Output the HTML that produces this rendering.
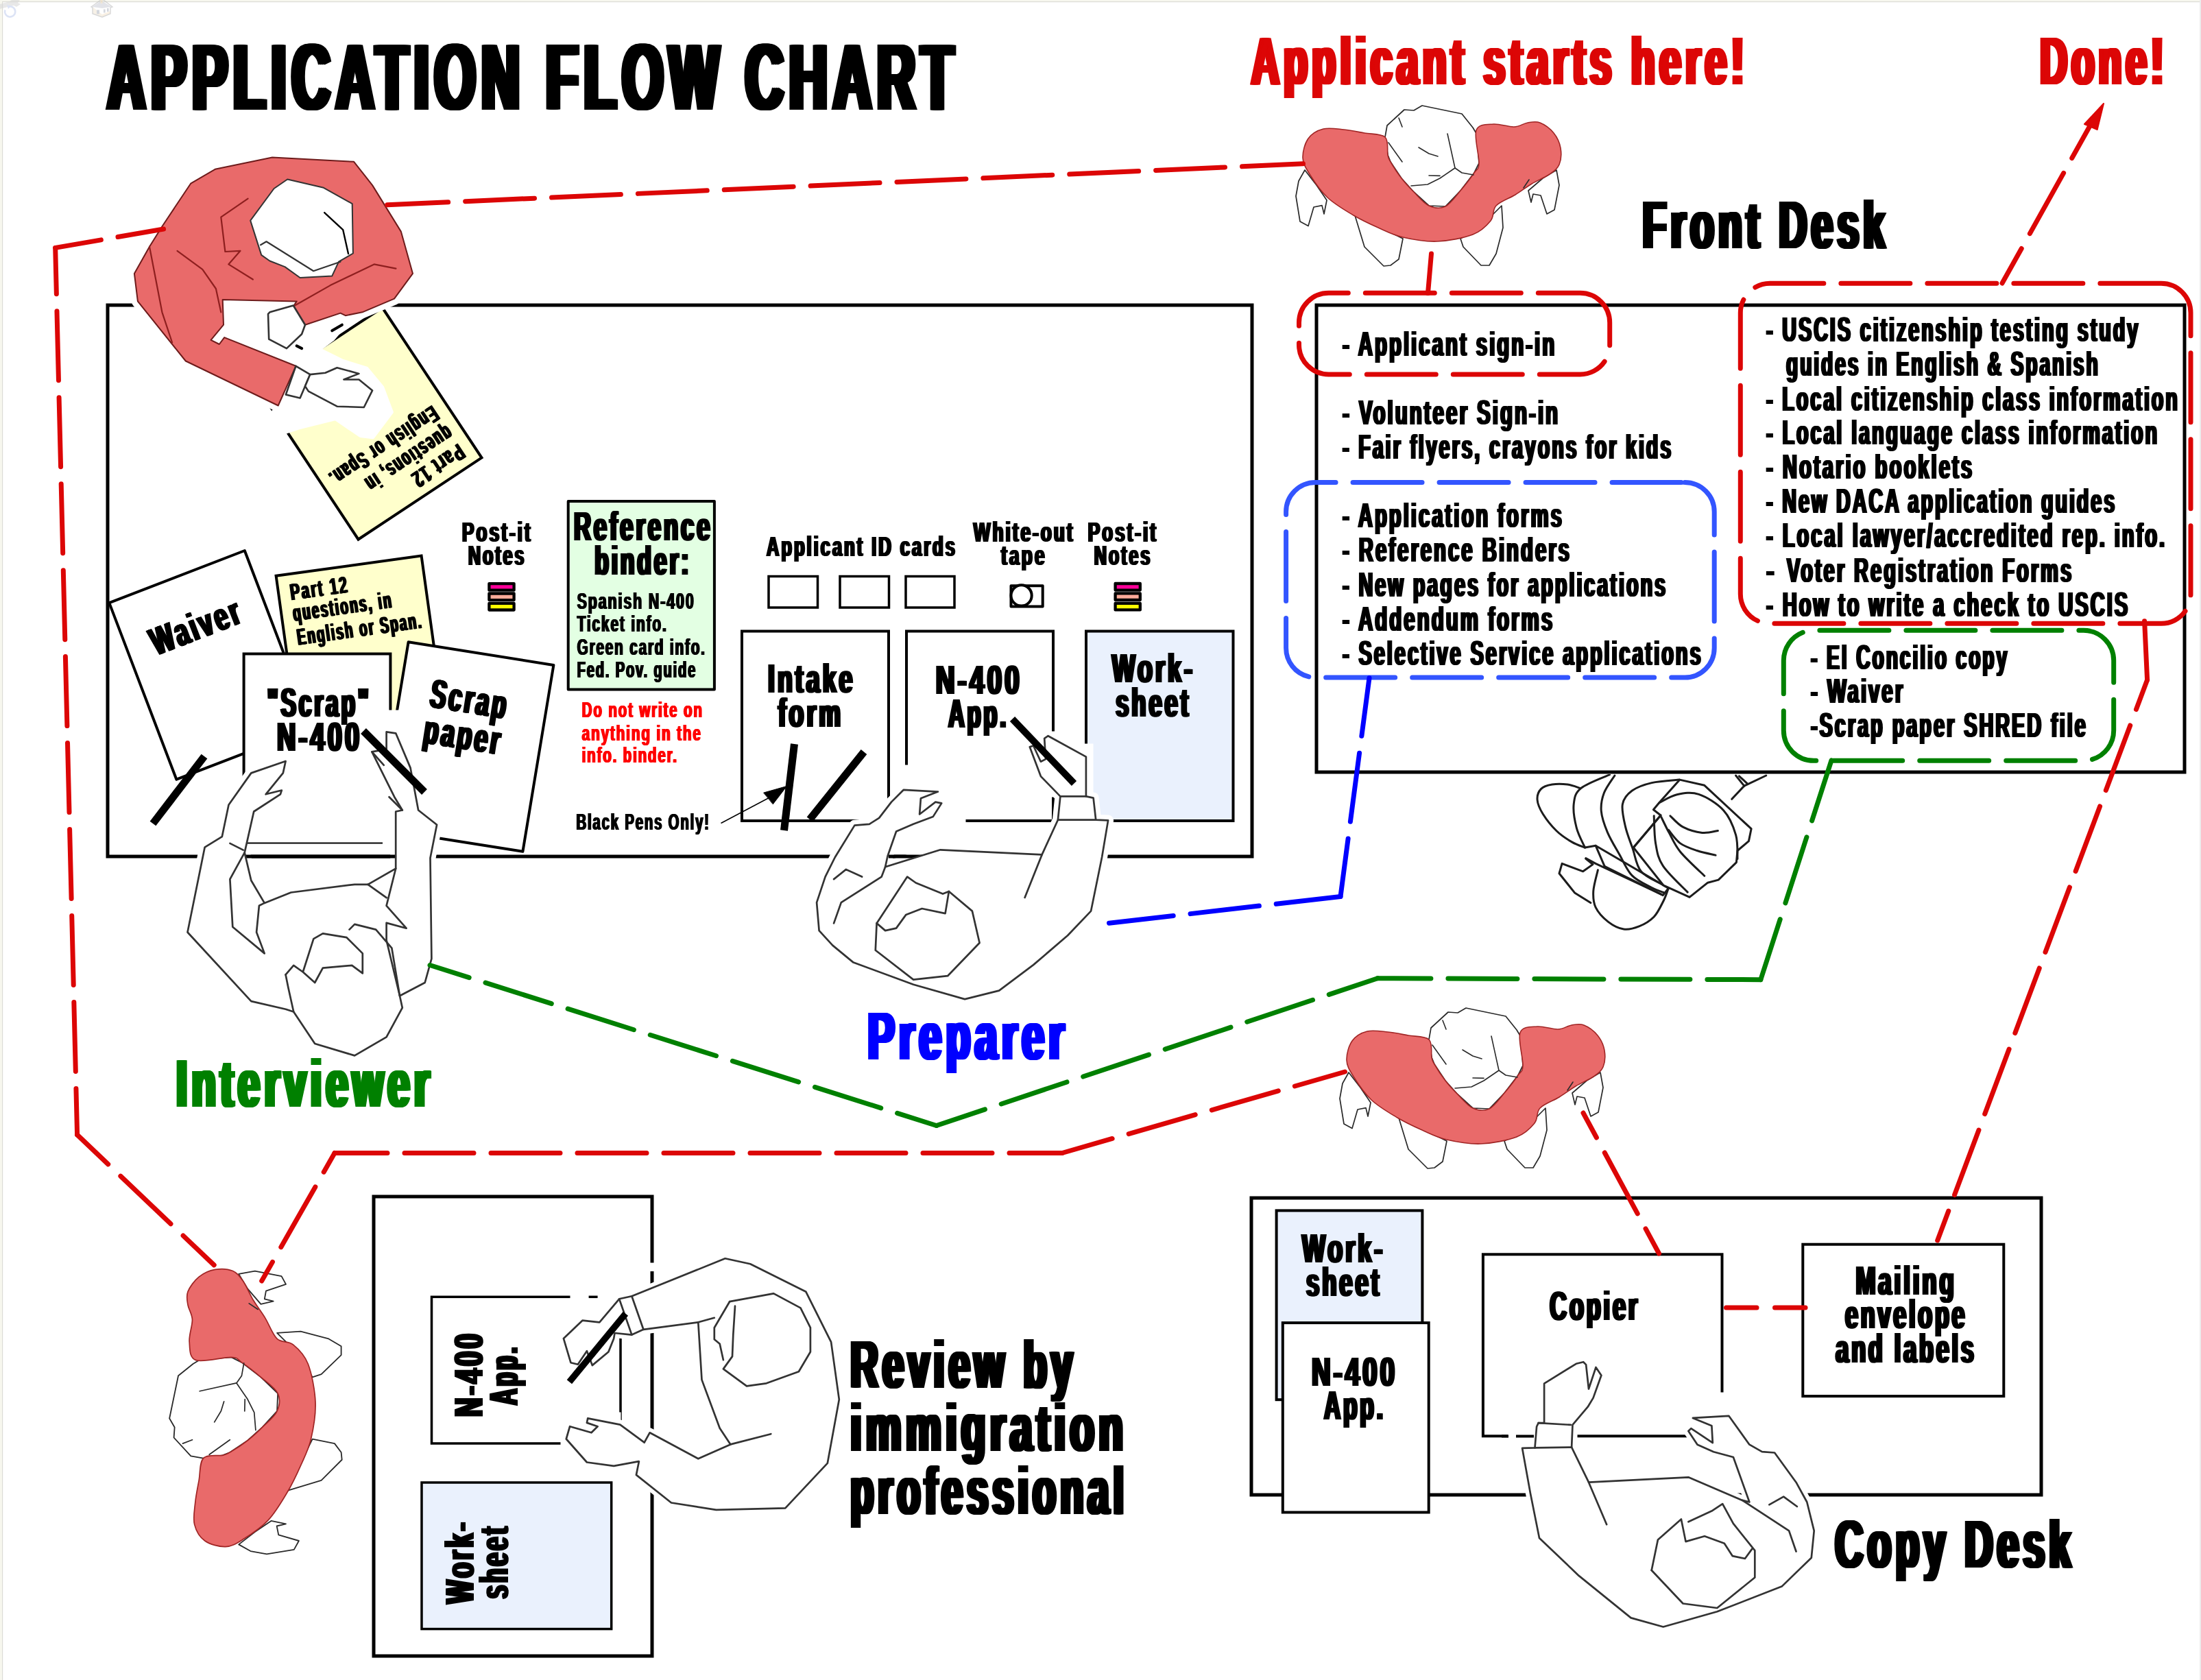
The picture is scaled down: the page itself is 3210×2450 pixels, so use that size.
<!DOCTYPE html>
<html><head><meta charset="utf-8"><title>Application Flow Chart</title>
<style>
html,body{margin:0;padding:0;background:#fff;}
body{width:3210px;height:2450px;overflow:hidden;font-family:"Liberation Sans",sans-serif;}
svg{display:block;will-change:transform;}
svg text{font-family:"Liberation Sans",sans-serif;font-weight:bold;}
</style></head><body>
<svg width="3210" height="2450" viewBox="0 0 3210 2450">
<rect x="0" y="0" width="3210" height="2450" fill="#fff"/>
<rect x="0" y="0" width="3210" height="2.5" fill="#f7f7ee"/>
<rect x="0" y="0" width="3.5" height="2450" fill="#f7f7ee"/>
<rect x="3" y="2" width="3207" height="1.2" fill="#dcdcd6"/>
<rect x="3" y="2" width="1.2" height="2448" fill="#dcdcd6"/>
<rect x="3208" y="0" width="2" height="2450" fill="#ececec"/>
<g opacity="0.6"><path d="M0,6 L14,2 L17,0 L29,0 L26,4 L30,6 L24,10 L20,8 L0,13 Z" fill="#d9d9d9"/><path d="M13.5,9.5 A7.6,7.6 0 1 1 7.5,14.5" fill="none" stroke="#c6d2f0" stroke-width="2.6"/><path d="M10,7 L16,9 L12,13 Z" fill="#c6d2f0"/></g>
<g opacity="0.6"><path d="M135,10 L149,21 L149,25 L135,20 Z" fill="#f3e9d8"/><path d="M149,21 L161,16 L161,20 L149,25 Z" fill="#f6e7d2"/><path d="M133,10 L147,0 L151,0 L164,10 L161,11 L161,20 L149,25 L135,20 L135,11 Z" fill="none" stroke="#bdbdbd" stroke-width="1.4"/><path d="M134,10 L148,1 L163,10 L149,12 Z" fill="#cfd2da"/><rect x="146.5" y="0" width="3" height="5" fill="#ecd9bd"/><rect x="141" y="14.5" width="4" height="6" fill="#b9bdc8"/><rect x="151" y="13.5" width="2.6" height="5" fill="#b9bdc8"/><rect x="156" y="12" width="2.6" height="5" fill="#b9bdc8"/></g>
<rect x="157.0" y="445.0" width="1669.0" height="804.0" fill="#fff" stroke="#000" stroke-width="5.0" />
<rect x="1920.0" y="445.0" width="1266.0" height="681.0" fill="#fff" stroke="#000" stroke-width="5.0" />
<rect x="1825.0" y="1747.0" width="1152.0" height="433.0" fill="#fff" stroke="#000" stroke-width="5.0" />
<rect x="545.0" y="1745.0" width="406.0" height="670.0" fill="#fff" stroke="#000" stroke-width="5.0" />
<text x="151.7" y="160.0" font-size="137.5" letter-spacing="15.3" textLength="1242.5" lengthAdjust="spacingAndGlyphs" fill="#000">APPLICATION FLOW CHART</text><text x="153.3" y="160.0" font-size="137.5" letter-spacing="15.3" textLength="1242.5" lengthAdjust="spacingAndGlyphs" fill="#000">APPLICATION FLOW CHART</text><text x="154.9" y="160.0" font-size="137.5" letter-spacing="15.3" textLength="1242.5" lengthAdjust="spacingAndGlyphs" fill="#000">APPLICATION FLOW CHART</text><text x="156.5" y="160.0" font-size="137.5" letter-spacing="15.3" textLength="1242.5" lengthAdjust="spacingAndGlyphs" fill="#000">APPLICATION FLOW CHART</text><text x="158.0" y="160.0" font-size="137.5" letter-spacing="15.3" textLength="1242.5" lengthAdjust="spacingAndGlyphs" fill="#000">APPLICATION FLOW CHART</text><text x="159.6" y="160.0" font-size="137.5" letter-spacing="15.3" textLength="1242.5" lengthAdjust="spacingAndGlyphs" fill="#000">APPLICATION FLOW CHART</text><text x="161.2" y="160.0" font-size="137.5" letter-spacing="15.3" textLength="1242.5" lengthAdjust="spacingAndGlyphs" fill="#000">APPLICATION FLOW CHART</text>
<text x="1821.4" y="122.5" font-size="98.8" letter-spacing="11.0" textLength="725.1" lengthAdjust="spacingAndGlyphs" fill="#dc0606">Applicant starts here!</text><text x="1822.8" y="122.5" font-size="98.8" letter-spacing="11.0" textLength="725.1" lengthAdjust="spacingAndGlyphs" fill="#dc0606">Applicant starts here!</text><text x="1824.2" y="122.5" font-size="98.8" letter-spacing="11.0" textLength="725.1" lengthAdjust="spacingAndGlyphs" fill="#dc0606">Applicant starts here!</text><text x="1825.5" y="122.5" font-size="98.8" letter-spacing="11.0" textLength="725.1" lengthAdjust="spacingAndGlyphs" fill="#dc0606">Applicant starts here!</text><text x="1826.9" y="122.5" font-size="98.8" letter-spacing="11.0" textLength="725.1" lengthAdjust="spacingAndGlyphs" fill="#dc0606">Applicant starts here!</text><text x="1828.2" y="122.5" font-size="98.8" letter-spacing="11.0" textLength="725.1" lengthAdjust="spacingAndGlyphs" fill="#dc0606">Applicant starts here!</text>
<text x="2971.9" y="122.5" font-size="98.8" letter-spacing="11.0" textLength="186.1" lengthAdjust="spacingAndGlyphs" fill="#dc0606">Done!</text><text x="2973.3" y="122.5" font-size="98.8" letter-spacing="11.0" textLength="186.1" lengthAdjust="spacingAndGlyphs" fill="#dc0606">Done!</text><text x="2974.7" y="122.5" font-size="98.8" letter-spacing="11.0" textLength="186.1" lengthAdjust="spacingAndGlyphs" fill="#dc0606">Done!</text><text x="2976.0" y="122.5" font-size="98.8" letter-spacing="11.0" textLength="186.1" lengthAdjust="spacingAndGlyphs" fill="#dc0606">Done!</text><text x="2977.4" y="122.5" font-size="98.8" letter-spacing="11.0" textLength="186.1" lengthAdjust="spacingAndGlyphs" fill="#dc0606">Done!</text><text x="2978.7" y="122.5" font-size="98.8" letter-spacing="11.0" textLength="186.1" lengthAdjust="spacingAndGlyphs" fill="#dc0606">Done!</text>
<text x="2392.3" y="361.8" font-size="98.8" letter-spacing="11.0" textLength="359.6" lengthAdjust="spacingAndGlyphs" fill="#000">Front Desk</text><text x="2393.7" y="361.8" font-size="98.8" letter-spacing="11.0" textLength="359.6" lengthAdjust="spacingAndGlyphs" fill="#000">Front Desk</text><text x="2395.1" y="361.8" font-size="98.8" letter-spacing="11.0" textLength="359.6" lengthAdjust="spacingAndGlyphs" fill="#000">Front Desk</text><text x="2396.4" y="361.8" font-size="98.8" letter-spacing="11.0" textLength="359.6" lengthAdjust="spacingAndGlyphs" fill="#000">Front Desk</text><text x="2397.8" y="361.8" font-size="98.8" letter-spacing="11.0" textLength="359.6" lengthAdjust="spacingAndGlyphs" fill="#000">Front Desk</text><text x="2399.1" y="361.8" font-size="98.8" letter-spacing="11.0" textLength="359.6" lengthAdjust="spacingAndGlyphs" fill="#000">Front Desk</text>
<text x="253.7" y="1613.9" font-size="98.8" letter-spacing="11.0" textLength="375.8" lengthAdjust="spacingAndGlyphs" fill="#008000">Interviewer</text><text x="255.1" y="1613.9" font-size="98.8" letter-spacing="11.0" textLength="375.8" lengthAdjust="spacingAndGlyphs" fill="#008000">Interviewer</text><text x="256.5" y="1613.9" font-size="98.8" letter-spacing="11.0" textLength="375.8" lengthAdjust="spacingAndGlyphs" fill="#008000">Interviewer</text><text x="257.8" y="1613.9" font-size="98.8" letter-spacing="11.0" textLength="375.8" lengthAdjust="spacingAndGlyphs" fill="#008000">Interviewer</text><text x="259.2" y="1613.9" font-size="98.8" letter-spacing="11.0" textLength="375.8" lengthAdjust="spacingAndGlyphs" fill="#008000">Interviewer</text><text x="260.5" y="1613.9" font-size="98.8" letter-spacing="11.0" textLength="375.8" lengthAdjust="spacingAndGlyphs" fill="#008000">Interviewer</text>
<text x="1262.2" y="1545.2" font-size="98.8" letter-spacing="11.0" textLength="293.2" lengthAdjust="spacingAndGlyphs" fill="#0000ff">Preparer</text><text x="1263.6" y="1545.2" font-size="98.8" letter-spacing="11.0" textLength="293.2" lengthAdjust="spacingAndGlyphs" fill="#0000ff">Preparer</text><text x="1265.0" y="1545.2" font-size="98.8" letter-spacing="11.0" textLength="293.2" lengthAdjust="spacingAndGlyphs" fill="#0000ff">Preparer</text><text x="1266.3" y="1545.2" font-size="98.8" letter-spacing="11.0" textLength="293.2" lengthAdjust="spacingAndGlyphs" fill="#0000ff">Preparer</text><text x="1267.7" y="1545.2" font-size="98.8" letter-spacing="11.0" textLength="293.2" lengthAdjust="spacingAndGlyphs" fill="#0000ff">Preparer</text><text x="1269.0" y="1545.2" font-size="98.8" letter-spacing="11.0" textLength="293.2" lengthAdjust="spacingAndGlyphs" fill="#0000ff">Preparer</text>
<text x="2672.9" y="2285.5" font-size="98.8" letter-spacing="11.0" textLength="350.1" lengthAdjust="spacingAndGlyphs" fill="#000">Copy Desk</text><text x="2674.3" y="2285.5" font-size="98.8" letter-spacing="11.0" textLength="350.1" lengthAdjust="spacingAndGlyphs" fill="#000">Copy Desk</text><text x="2675.7" y="2285.5" font-size="98.8" letter-spacing="11.0" textLength="350.1" lengthAdjust="spacingAndGlyphs" fill="#000">Copy Desk</text><text x="2677.0" y="2285.5" font-size="98.8" letter-spacing="11.0" textLength="350.1" lengthAdjust="spacingAndGlyphs" fill="#000">Copy Desk</text><text x="2678.4" y="2285.5" font-size="98.8" letter-spacing="11.0" textLength="350.1" lengthAdjust="spacingAndGlyphs" fill="#000">Copy Desk</text><text x="2679.7" y="2285.5" font-size="98.8" letter-spacing="11.0" textLength="350.1" lengthAdjust="spacingAndGlyphs" fill="#000">Copy Desk</text>
<text x="1236.9" y="2024.0" font-size="98.8" letter-spacing="11.0" textLength="330.1" lengthAdjust="spacingAndGlyphs" fill="#000">Review by</text><text x="1238.3" y="2024.0" font-size="98.8" letter-spacing="11.0" textLength="330.1" lengthAdjust="spacingAndGlyphs" fill="#000">Review by</text><text x="1239.7" y="2024.0" font-size="98.8" letter-spacing="11.0" textLength="330.1" lengthAdjust="spacingAndGlyphs" fill="#000">Review by</text><text x="1241.0" y="2024.0" font-size="98.8" letter-spacing="11.0" textLength="330.1" lengthAdjust="spacingAndGlyphs" fill="#000">Review by</text><text x="1242.4" y="2024.0" font-size="98.8" letter-spacing="11.0" textLength="330.1" lengthAdjust="spacingAndGlyphs" fill="#000">Review by</text><text x="1243.7" y="2024.0" font-size="98.8" letter-spacing="11.0" textLength="330.1" lengthAdjust="spacingAndGlyphs" fill="#000">Review by</text>
<text x="1236.9" y="2116.0" font-size="98.8" letter-spacing="11.0" textLength="404.1" lengthAdjust="spacingAndGlyphs" fill="#000">immigration</text><text x="1238.3" y="2116.0" font-size="98.8" letter-spacing="11.0" textLength="404.1" lengthAdjust="spacingAndGlyphs" fill="#000">immigration</text><text x="1239.7" y="2116.0" font-size="98.8" letter-spacing="11.0" textLength="404.1" lengthAdjust="spacingAndGlyphs" fill="#000">immigration</text><text x="1241.0" y="2116.0" font-size="98.8" letter-spacing="11.0" textLength="404.1" lengthAdjust="spacingAndGlyphs" fill="#000">immigration</text><text x="1242.4" y="2116.0" font-size="98.8" letter-spacing="11.0" textLength="404.1" lengthAdjust="spacingAndGlyphs" fill="#000">immigration</text><text x="1243.7" y="2116.0" font-size="98.8" letter-spacing="11.0" textLength="404.1" lengthAdjust="spacingAndGlyphs" fill="#000">immigration</text>
<text x="1236.9" y="2207.5" font-size="98.8" letter-spacing="11.0" textLength="404.9" lengthAdjust="spacingAndGlyphs" fill="#000">professional</text><text x="1238.3" y="2207.5" font-size="98.8" letter-spacing="11.0" textLength="404.9" lengthAdjust="spacingAndGlyphs" fill="#000">professional</text><text x="1239.7" y="2207.5" font-size="98.8" letter-spacing="11.0" textLength="404.9" lengthAdjust="spacingAndGlyphs" fill="#000">professional</text><text x="1241.0" y="2207.5" font-size="98.8" letter-spacing="11.0" textLength="404.9" lengthAdjust="spacingAndGlyphs" fill="#000">professional</text><text x="1242.4" y="2207.5" font-size="98.8" letter-spacing="11.0" textLength="404.9" lengthAdjust="spacingAndGlyphs" fill="#000">professional</text><text x="1243.7" y="2207.5" font-size="98.8" letter-spacing="11.0" textLength="404.9" lengthAdjust="spacingAndGlyphs" fill="#000">professional</text>
<g transform="translate(702.5,667.5) rotate(146.5)">
<rect x="0" y="0" width="215.8" height="262.5" fill="#ffffcc" stroke="#000" stroke-width="4"/>
<text x="16.1" y="36.8" font-size="34.0" letter-spacing="3.8" textLength="85.7" lengthAdjust="spacingAndGlyphs" fill="#000">Part 12</text><text x="17.3" y="36.8" font-size="34.0" letter-spacing="3.8" textLength="85.7" lengthAdjust="spacingAndGlyphs" fill="#000">Part 12</text><text x="18.5" y="36.8" font-size="34.0" letter-spacing="3.8" textLength="85.7" lengthAdjust="spacingAndGlyphs" fill="#000">Part 12</text>
<text x="15.6" y="68.6" font-size="34.0" letter-spacing="3.8" textLength="146.7" lengthAdjust="spacingAndGlyphs" fill="#000">questions, in</text><text x="16.8" y="68.6" font-size="34.0" letter-spacing="3.8" textLength="146.7" lengthAdjust="spacingAndGlyphs" fill="#000">questions, in</text><text x="18.0" y="68.6" font-size="34.0" letter-spacing="3.8" textLength="146.7" lengthAdjust="spacingAndGlyphs" fill="#000">questions, in</text>
<text x="17.0" y="104.1" font-size="34.0" letter-spacing="3.8" textLength="184.5" lengthAdjust="spacingAndGlyphs" fill="#000">English or Span.</text><text x="18.2" y="104.1" font-size="34.0" letter-spacing="3.8" textLength="184.5" lengthAdjust="spacingAndGlyphs" fill="#000">English or Span.</text><text x="19.4" y="104.1" font-size="34.0" letter-spacing="3.8" textLength="184.5" lengthAdjust="spacingAndGlyphs" fill="#000">English or Span.</text>
</g>
<polygon points="159.3,879.1 356.8,803.0 454.9,1060.6 257.4,1136.7" fill="#fff" stroke="#000" stroke-width="4.0" stroke-linejoin="round" stroke-linecap="round" />
<g transform="translate(228.1,956.5) rotate(-21)"><text x="-1.8" y="0.0" font-size="57.4" letter-spacing="6.4" textLength="139.6" lengthAdjust="spacingAndGlyphs" fill="#000">Waiver</text><text x="-0.5" y="0.0" font-size="57.4" letter-spacing="6.4" textLength="139.6" lengthAdjust="spacingAndGlyphs" fill="#000">Waiver</text><text x="0.9" y="0.0" font-size="57.4" letter-spacing="6.4" textLength="139.6" lengthAdjust="spacingAndGlyphs" fill="#000">Waiver</text><text x="2.2" y="0.0" font-size="57.4" letter-spacing="6.4" textLength="139.6" lengthAdjust="spacingAndGlyphs" fill="#000">Waiver</text></g>
<g transform="translate(402.6,839.8) rotate(-7.9)">
<rect x="0" y="0" width="214" height="275" fill="#ffffcc" stroke="#000" stroke-width="4"/>
<text x="16.1" y="38.3" font-size="34.0" letter-spacing="3.8" textLength="85.7" lengthAdjust="spacingAndGlyphs" fill="#000">Part 12</text><text x="17.3" y="38.3" font-size="34.0" letter-spacing="3.8" textLength="85.7" lengthAdjust="spacingAndGlyphs" fill="#000">Part 12</text><text x="18.5" y="38.3" font-size="34.0" letter-spacing="3.8" textLength="85.7" lengthAdjust="spacingAndGlyphs" fill="#000">Part 12</text>
<text x="15.6" y="69.1" font-size="34.0" letter-spacing="3.8" textLength="146.7" lengthAdjust="spacingAndGlyphs" fill="#000">questions, in</text><text x="16.8" y="69.1" font-size="34.0" letter-spacing="3.8" textLength="146.7" lengthAdjust="spacingAndGlyphs" fill="#000">questions, in</text><text x="18.0" y="69.1" font-size="34.0" letter-spacing="3.8" textLength="146.7" lengthAdjust="spacingAndGlyphs" fill="#000">questions, in</text>
<text x="17.0" y="104.6" font-size="34.0" letter-spacing="3.8" textLength="184.5" lengthAdjust="spacingAndGlyphs" fill="#000">English or Span.</text><text x="18.2" y="104.6" font-size="34.0" letter-spacing="3.8" textLength="184.5" lengthAdjust="spacingAndGlyphs" fill="#000">English or Span.</text><text x="19.4" y="104.6" font-size="34.0" letter-spacing="3.8" textLength="184.5" lengthAdjust="spacingAndGlyphs" fill="#000">English or Span.</text>
</g>
<polygon points="595.6,936.3 807.4,969.9 762.4,1241.8 550.6,1208.2" fill="#fff" stroke="#000" stroke-width="4.0" stroke-linejoin="round" stroke-linecap="round" />
<g transform="translate(625.1,1030.9) rotate(9)"><text x="-1.8" y="0.0" font-size="59.4" letter-spacing="6.6" textLength="115.4" lengthAdjust="spacingAndGlyphs" fill="#000">Scrap</text><text x="-0.5" y="0.0" font-size="59.4" letter-spacing="6.6" textLength="115.4" lengthAdjust="spacingAndGlyphs" fill="#000">Scrap</text><text x="0.9" y="0.0" font-size="59.4" letter-spacing="6.6" textLength="115.4" lengthAdjust="spacingAndGlyphs" fill="#000">Scrap</text><text x="2.2" y="0.0" font-size="59.4" letter-spacing="6.6" textLength="115.4" lengthAdjust="spacingAndGlyphs" fill="#000">Scrap</text><text x="-3.0" y="53.0" font-size="59.4" letter-spacing="6.6" textLength="115.5" lengthAdjust="spacingAndGlyphs" fill="#000">paper</text><text x="-1.7" y="53.0" font-size="59.4" letter-spacing="6.6" textLength="115.5" lengthAdjust="spacingAndGlyphs" fill="#000">paper</text><text x="-0.3" y="53.0" font-size="59.4" letter-spacing="6.6" textLength="115.5" lengthAdjust="spacingAndGlyphs" fill="#000">paper</text><text x="1.0" y="53.0" font-size="59.4" letter-spacing="6.6" textLength="115.5" lengthAdjust="spacingAndGlyphs" fill="#000">paper</text></g>
<rect x="355.6" y="953.5" width="213.8" height="275.2" fill="#fff" stroke="#000" stroke-width="4.0" />
<text x="387.7" y="1045.0" font-size="59.4" letter-spacing="6.6" textLength="151.9" lengthAdjust="spacingAndGlyphs" fill="#000">"Scrap"</text><text x="389.0" y="1045.0" font-size="59.4" letter-spacing="6.6" textLength="151.9" lengthAdjust="spacingAndGlyphs" fill="#000">"Scrap"</text><text x="390.4" y="1045.0" font-size="59.4" letter-spacing="6.6" textLength="151.9" lengthAdjust="spacingAndGlyphs" fill="#000">"Scrap"</text><text x="391.7" y="1045.0" font-size="59.4" letter-spacing="6.6" textLength="151.9" lengthAdjust="spacingAndGlyphs" fill="#000">"Scrap"</text>
<text x="402.0" y="1095.0" font-size="59.4" letter-spacing="6.6" textLength="124.4" lengthAdjust="spacingAndGlyphs" fill="#000">N-400</text><text x="403.3" y="1095.0" font-size="59.4" letter-spacing="6.6" textLength="124.4" lengthAdjust="spacingAndGlyphs" fill="#000">N-400</text><text x="404.7" y="1095.0" font-size="59.4" letter-spacing="6.6" textLength="124.4" lengthAdjust="spacingAndGlyphs" fill="#000">N-400</text><text x="406.0" y="1095.0" font-size="59.4" letter-spacing="6.6" textLength="124.4" lengthAdjust="spacingAndGlyphs" fill="#000">N-400</text>
<text x="672.4" y="790.0" font-size="41.3" letter-spacing="4.6" textLength="102.8" lengthAdjust="spacingAndGlyphs" fill="#000">Post-it</text><text x="673.8" y="790.0" font-size="41.3" letter-spacing="4.6" textLength="102.8" lengthAdjust="spacingAndGlyphs" fill="#000">Post-it</text><text x="675.3" y="790.0" font-size="41.3" letter-spacing="4.6" textLength="102.8" lengthAdjust="spacingAndGlyphs" fill="#000">Post-it</text>
<text x="681.4" y="823.5" font-size="41.3" letter-spacing="4.6" textLength="84.4" lengthAdjust="spacingAndGlyphs" fill="#000">Notes</text><text x="682.8" y="823.5" font-size="41.3" letter-spacing="4.6" textLength="84.4" lengthAdjust="spacingAndGlyphs" fill="#000">Notes</text><text x="684.3" y="823.5" font-size="41.3" letter-spacing="4.6" textLength="84.4" lengthAdjust="spacingAndGlyphs" fill="#000">Notes</text>
<rect x="713.4" y="851.1" width="36.2" height="9.6" fill="#ff0099" stroke="#000" stroke-width="4.3" stroke-linejoin="round"/><rect x="713.4" y="865.5" width="36.2" height="9.6" fill="#ffab9a" stroke="#000" stroke-width="4.3" stroke-linejoin="round"/><rect x="713.4" y="879.9" width="36.2" height="9.6" fill="#ffff00" stroke="#000" stroke-width="4.3" stroke-linejoin="round"/>
<rect x="828.7" y="731.1" width="213.2" height="274.5" fill="#e3ffe3" stroke="#000" stroke-width="4.0" stroke-linejoin="round"/>
<text x="834.9" y="788.3" font-size="59.0" letter-spacing="6.5" textLength="202.4" lengthAdjust="spacingAndGlyphs" fill="#000">Reference</text><text x="836.2" y="788.3" font-size="59.0" letter-spacing="6.5" textLength="202.4" lengthAdjust="spacingAndGlyphs" fill="#000">Reference</text><text x="837.6" y="788.3" font-size="59.0" letter-spacing="6.5" textLength="202.4" lengthAdjust="spacingAndGlyphs" fill="#000">Reference</text><text x="838.9" y="788.3" font-size="59.0" letter-spacing="6.5" textLength="202.4" lengthAdjust="spacingAndGlyphs" fill="#000">Reference</text>
<text x="865.2" y="837.7" font-size="59.0" letter-spacing="6.5" textLength="141.2" lengthAdjust="spacingAndGlyphs" fill="#000">binder:</text><text x="866.5" y="837.7" font-size="59.0" letter-spacing="6.5" textLength="141.2" lengthAdjust="spacingAndGlyphs" fill="#000">binder:</text><text x="867.9" y="837.7" font-size="59.0" letter-spacing="6.5" textLength="141.2" lengthAdjust="spacingAndGlyphs" fill="#000">binder:</text><text x="869.2" y="837.7" font-size="59.0" letter-spacing="6.5" textLength="141.2" lengthAdjust="spacingAndGlyphs" fill="#000">binder:</text>
<text x="840.7" y="887.8" font-size="34.0" letter-spacing="3.0" textLength="172.0" lengthAdjust="spacingAndGlyphs" fill="#000">Spanish N-400</text><text x="841.7" y="887.8" font-size="34.0" letter-spacing="3.0" textLength="172.0" lengthAdjust="spacingAndGlyphs" fill="#000">Spanish N-400</text><text x="842.6" y="887.8" font-size="34.0" letter-spacing="3.0" textLength="172.0" lengthAdjust="spacingAndGlyphs" fill="#000">Spanish N-400</text>
<text x="840.7" y="921.2" font-size="34.0" letter-spacing="3.0" textLength="132.0" lengthAdjust="spacingAndGlyphs" fill="#000">Ticket info.</text><text x="841.7" y="921.2" font-size="34.0" letter-spacing="3.0" textLength="132.0" lengthAdjust="spacingAndGlyphs" fill="#000">Ticket info.</text><text x="842.6" y="921.2" font-size="34.0" letter-spacing="3.0" textLength="132.0" lengthAdjust="spacingAndGlyphs" fill="#000">Ticket info.</text>
<text x="840.7" y="955.1" font-size="34.0" letter-spacing="3.0" textLength="188.1" lengthAdjust="spacingAndGlyphs" fill="#000">Green card info.</text><text x="841.7" y="955.1" font-size="34.0" letter-spacing="3.0" textLength="188.1" lengthAdjust="spacingAndGlyphs" fill="#000">Green card info.</text><text x="842.6" y="955.1" font-size="34.0" letter-spacing="3.0" textLength="188.1" lengthAdjust="spacingAndGlyphs" fill="#000">Green card info.</text>
<text x="840.7" y="987.9" font-size="34.0" letter-spacing="3.0" textLength="174.5" lengthAdjust="spacingAndGlyphs" fill="#000">Fed. Pov. guide</text><text x="841.7" y="987.9" font-size="34.0" letter-spacing="3.0" textLength="174.5" lengthAdjust="spacingAndGlyphs" fill="#000">Fed. Pov. guide</text><text x="842.6" y="987.9" font-size="34.0" letter-spacing="3.0" textLength="174.5" lengthAdjust="spacingAndGlyphs" fill="#000">Fed. Pov. guide</text>
<text x="847.8" y="1046.2" font-size="31.7" letter-spacing="2.8" textLength="177.1" lengthAdjust="spacingAndGlyphs" fill="#ff0000">Do not write on</text><text x="848.7" y="1046.2" font-size="31.7" letter-spacing="2.8" textLength="177.1" lengthAdjust="spacingAndGlyphs" fill="#ff0000">Do not write on</text><text x="849.6" y="1046.2" font-size="31.7" letter-spacing="2.8" textLength="177.1" lengthAdjust="spacingAndGlyphs" fill="#ff0000">Do not write on</text>
<text x="847.8" y="1079.5" font-size="31.7" letter-spacing="2.8" textLength="175.0" lengthAdjust="spacingAndGlyphs" fill="#ff0000">anything in the</text><text x="848.7" y="1079.5" font-size="31.7" letter-spacing="2.8" textLength="175.0" lengthAdjust="spacingAndGlyphs" fill="#ff0000">anything in the</text><text x="849.6" y="1079.5" font-size="31.7" letter-spacing="2.8" textLength="175.0" lengthAdjust="spacingAndGlyphs" fill="#ff0000">anything in the</text>
<text x="847.8" y="1112.3" font-size="31.7" letter-spacing="2.8" textLength="140.1" lengthAdjust="spacingAndGlyphs" fill="#ff0000">info. binder.</text><text x="848.7" y="1112.3" font-size="31.7" letter-spacing="2.8" textLength="140.1" lengthAdjust="spacingAndGlyphs" fill="#ff0000">info. binder.</text><text x="849.6" y="1112.3" font-size="31.7" letter-spacing="2.8" textLength="140.1" lengthAdjust="spacingAndGlyphs" fill="#ff0000">info. binder.</text>
<text x="839.6" y="1210.3" font-size="32.7" letter-spacing="2.9" textLength="195.3" lengthAdjust="spacingAndGlyphs" fill="#000">Black Pens Only!</text><text x="840.5" y="1210.3" font-size="32.7" letter-spacing="2.9" textLength="195.3" lengthAdjust="spacingAndGlyphs" fill="#000">Black Pens Only!</text><text x="841.4" y="1210.3" font-size="32.7" letter-spacing="2.9" textLength="195.3" lengthAdjust="spacingAndGlyphs" fill="#000">Black Pens Only!</text>
<text x="1116.4" y="811.3" font-size="41.3" letter-spacing="4.6" textLength="278.0" lengthAdjust="spacingAndGlyphs" fill="#000">Applicant ID cards</text><text x="1117.8" y="811.3" font-size="41.3" letter-spacing="4.6" textLength="278.0" lengthAdjust="spacingAndGlyphs" fill="#000">Applicant ID cards</text><text x="1119.3" y="811.3" font-size="41.3" letter-spacing="4.6" textLength="278.0" lengthAdjust="spacingAndGlyphs" fill="#000">Applicant ID cards</text>
<rect x="1121.0" y="840.5" width="71.5" height="45.5" fill="#fff" stroke="#000" stroke-width="3.5" />
<rect x="1225.0" y="840.5" width="71.5" height="45.5" fill="#fff" stroke="#000" stroke-width="3.5" />
<rect x="1321.0" y="840.5" width="71.0" height="45.5" fill="#fff" stroke="#000" stroke-width="3.5" />
<text x="1418.2" y="790.3" font-size="41.3" letter-spacing="4.6" textLength="147.9" lengthAdjust="spacingAndGlyphs" fill="#000">White-out</text><text x="1419.6" y="790.3" font-size="41.3" letter-spacing="4.6" textLength="147.9" lengthAdjust="spacingAndGlyphs" fill="#000">White-out</text><text x="1421.1" y="790.3" font-size="41.3" letter-spacing="4.6" textLength="147.9" lengthAdjust="spacingAndGlyphs" fill="#000">White-out</text>
<text x="1458.6" y="823.6" font-size="41.3" letter-spacing="4.6" textLength="66.6" lengthAdjust="spacingAndGlyphs" fill="#000">tape</text><text x="1460.0" y="823.6" font-size="41.3" letter-spacing="4.6" textLength="66.6" lengthAdjust="spacingAndGlyphs" fill="#000">tape</text><text x="1461.5" y="823.6" font-size="41.3" letter-spacing="4.6" textLength="66.6" lengthAdjust="spacingAndGlyphs" fill="#000">tape</text>
<rect x="1474.5" y="854.2" width="46.2" height="30.3" fill="#fff" stroke="#000" stroke-width="4.0" stroke-linejoin="round"/>
<circle cx="1489.6" cy="868.4" r="15.1" fill="#fff" stroke="#000" stroke-width="4"/>
<text x="1585.3" y="790.3" font-size="41.3" letter-spacing="4.6" textLength="102.1" lengthAdjust="spacingAndGlyphs" fill="#000">Post-it</text><text x="1586.7" y="790.3" font-size="41.3" letter-spacing="4.6" textLength="102.1" lengthAdjust="spacingAndGlyphs" fill="#000">Post-it</text><text x="1588.2" y="790.3" font-size="41.3" letter-spacing="4.6" textLength="102.1" lengthAdjust="spacingAndGlyphs" fill="#000">Post-it</text>
<text x="1594.3" y="823.6" font-size="41.3" letter-spacing="4.6" textLength="84.4" lengthAdjust="spacingAndGlyphs" fill="#000">Notes</text><text x="1595.7" y="823.6" font-size="41.3" letter-spacing="4.6" textLength="84.4" lengthAdjust="spacingAndGlyphs" fill="#000">Notes</text><text x="1597.2" y="823.6" font-size="41.3" letter-spacing="4.6" textLength="84.4" lengthAdjust="spacingAndGlyphs" fill="#000">Notes</text>
<rect x="1626.6" y="851.0" width="36.2" height="9.6" fill="#ff0099" stroke="#000" stroke-width="4.3" stroke-linejoin="round"/><rect x="1626.6" y="865.4" width="36.2" height="9.6" fill="#ffab9a" stroke="#000" stroke-width="4.3" stroke-linejoin="round"/><rect x="1626.6" y="879.8" width="36.2" height="9.6" fill="#ffff00" stroke="#000" stroke-width="4.3" stroke-linejoin="round"/>
<rect x="1082.0" y="920.5" width="214.0" height="276.5" fill="#fff" stroke="#000" stroke-width="4.0" />
<text x="1118.0" y="1010.0" font-size="59.4" letter-spacing="6.6" textLength="127.5" lengthAdjust="spacingAndGlyphs" fill="#000">Intake</text><text x="1119.3" y="1010.0" font-size="59.4" letter-spacing="6.6" textLength="127.5" lengthAdjust="spacingAndGlyphs" fill="#000">Intake</text><text x="1120.7" y="1010.0" font-size="59.4" letter-spacing="6.6" textLength="127.5" lengthAdjust="spacingAndGlyphs" fill="#000">Intake</text><text x="1122.0" y="1010.0" font-size="59.4" letter-spacing="6.6" textLength="127.5" lengthAdjust="spacingAndGlyphs" fill="#000">Intake</text>
<text x="1132.7" y="1060.0" font-size="59.4" letter-spacing="6.6" textLength="95.5" lengthAdjust="spacingAndGlyphs" fill="#000">form</text><text x="1134.0" y="1060.0" font-size="59.4" letter-spacing="6.6" textLength="95.5" lengthAdjust="spacingAndGlyphs" fill="#000">form</text><text x="1135.4" y="1060.0" font-size="59.4" letter-spacing="6.6" textLength="95.5" lengthAdjust="spacingAndGlyphs" fill="#000">form</text><text x="1136.7" y="1060.0" font-size="59.4" letter-spacing="6.6" textLength="95.5" lengthAdjust="spacingAndGlyphs" fill="#000">form</text>
<rect x="1322.0" y="920.5" width="214.0" height="276.5" fill="#fff" stroke="#000" stroke-width="4.0" />
<text x="1362.8" y="1011.5" font-size="59.4" letter-spacing="6.6" textLength="126.2" lengthAdjust="spacingAndGlyphs" fill="#000">N-400</text><text x="1364.1" y="1011.5" font-size="59.4" letter-spacing="6.6" textLength="126.2" lengthAdjust="spacingAndGlyphs" fill="#000">N-400</text><text x="1365.5" y="1011.5" font-size="59.4" letter-spacing="6.6" textLength="126.2" lengthAdjust="spacingAndGlyphs" fill="#000">N-400</text><text x="1366.8" y="1011.5" font-size="59.4" letter-spacing="6.6" textLength="126.2" lengthAdjust="spacingAndGlyphs" fill="#000">N-400</text>
<text x="1381.0" y="1061.3" font-size="59.4" letter-spacing="6.6" textLength="88.0" lengthAdjust="spacingAndGlyphs" fill="#000">App.</text><text x="1382.3" y="1061.3" font-size="59.4" letter-spacing="6.6" textLength="88.0" lengthAdjust="spacingAndGlyphs" fill="#000">App.</text><text x="1383.7" y="1061.3" font-size="59.4" letter-spacing="6.6" textLength="88.0" lengthAdjust="spacingAndGlyphs" fill="#000">App.</text><text x="1385.0" y="1061.3" font-size="59.4" letter-spacing="6.6" textLength="88.0" lengthAdjust="spacingAndGlyphs" fill="#000">App.</text>
<rect x="1584.0" y="920.5" width="214.5" height="276.5" fill="#eaf1fd" stroke="#000" stroke-width="4.0" />
<text x="1619.8" y="994.6" font-size="59.4" letter-spacing="6.6" textLength="121.1" lengthAdjust="spacingAndGlyphs" fill="#000">Work-</text><text x="1621.1" y="994.6" font-size="59.4" letter-spacing="6.6" textLength="121.1" lengthAdjust="spacingAndGlyphs" fill="#000">Work-</text><text x="1622.5" y="994.6" font-size="59.4" letter-spacing="6.6" textLength="121.1" lengthAdjust="spacingAndGlyphs" fill="#000">Work-</text><text x="1623.8" y="994.6" font-size="59.4" letter-spacing="6.6" textLength="121.1" lengthAdjust="spacingAndGlyphs" fill="#000">Work-</text>
<text x="1625.2" y="1044.6" font-size="59.4" letter-spacing="6.6" textLength="109.9" lengthAdjust="spacingAndGlyphs" fill="#000">sheet</text><text x="1626.5" y="1044.6" font-size="59.4" letter-spacing="6.6" textLength="109.9" lengthAdjust="spacingAndGlyphs" fill="#000">sheet</text><text x="1627.9" y="1044.6" font-size="59.4" letter-spacing="6.6" textLength="109.9" lengthAdjust="spacingAndGlyphs" fill="#000">sheet</text><text x="1629.2" y="1044.6" font-size="59.4" letter-spacing="6.6" textLength="109.9" lengthAdjust="spacingAndGlyphs" fill="#000">sheet</text>
<line x1="1051.5" y1="1200.5" x2="1128.0" y2="1160.0" stroke="#000" stroke-width="1.5" stroke-linecap="butt"/>
<polygon points="1114.0,1156.0 1147.5,1146.5 1127.5,1172.5" fill="#000" stroke="#000" stroke-width="1.0" stroke-linejoin="round" stroke-linecap="round" />
<line x1="1158.5" y1="1085.0" x2="1143.5" y2="1211.0" stroke="#000" stroke-width="11.0" stroke-linecap="butt"/>
<line x1="1260.0" y1="1096.5" x2="1181.0" y2="1195.0" stroke="#000" stroke-width="11.0" stroke-linecap="butt"/>
<line x1="298.0" y1="1103.0" x2="223.0" y2="1201.0" stroke="#000" stroke-width="11.0" stroke-linecap="butt"/>
<text x="1956.5" y="518.5" font-size="49.9" letter-spacing="5.0" textLength="312.1" lengthAdjust="spacingAndGlyphs" fill="#000">- Applicant sign-in</text><text x="1958.0" y="518.5" font-size="49.9" letter-spacing="5.0" textLength="312.1" lengthAdjust="spacingAndGlyphs" fill="#000">- Applicant sign-in</text><text x="1959.5" y="518.5" font-size="49.9" letter-spacing="5.0" textLength="312.1" lengthAdjust="spacingAndGlyphs" fill="#000">- Applicant sign-in</text>
<text x="1956.5" y="618.5" font-size="49.9" letter-spacing="5.0" textLength="317.1" lengthAdjust="spacingAndGlyphs" fill="#000">- Volunteer Sign-in</text><text x="1958.0" y="618.5" font-size="49.9" letter-spacing="5.0" textLength="317.1" lengthAdjust="spacingAndGlyphs" fill="#000">- Volunteer Sign-in</text><text x="1959.5" y="618.5" font-size="49.9" letter-spacing="5.0" textLength="317.1" lengthAdjust="spacingAndGlyphs" fill="#000">- Volunteer Sign-in</text>
<text x="1956.5" y="668.6" font-size="49.9" letter-spacing="5.0" textLength="482.1" lengthAdjust="spacingAndGlyphs" fill="#000">- Fair flyers, crayons for kids</text><text x="1958.0" y="668.6" font-size="49.9" letter-spacing="5.0" textLength="482.1" lengthAdjust="spacingAndGlyphs" fill="#000">- Fair flyers, crayons for kids</text><text x="1959.5" y="668.6" font-size="49.9" letter-spacing="5.0" textLength="482.1" lengthAdjust="spacingAndGlyphs" fill="#000">- Fair flyers, crayons for kids</text>
<text x="1956.5" y="769.4" font-size="49.9" letter-spacing="5.0" textLength="322.8" lengthAdjust="spacingAndGlyphs" fill="#000">- Application forms</text><text x="1958.0" y="769.4" font-size="49.9" letter-spacing="5.0" textLength="322.8" lengthAdjust="spacingAndGlyphs" fill="#000">- Application forms</text><text x="1959.5" y="769.4" font-size="49.9" letter-spacing="5.0" textLength="322.8" lengthAdjust="spacingAndGlyphs" fill="#000">- Application forms</text>
<text x="1956.5" y="819.4" font-size="49.9" letter-spacing="5.0" textLength="333.9" lengthAdjust="spacingAndGlyphs" fill="#000">- Reference Binders</text><text x="1958.0" y="819.4" font-size="49.9" letter-spacing="5.0" textLength="333.9" lengthAdjust="spacingAndGlyphs" fill="#000">- Reference Binders</text><text x="1959.5" y="819.4" font-size="49.9" letter-spacing="5.0" textLength="333.9" lengthAdjust="spacingAndGlyphs" fill="#000">- Reference Binders</text>
<text x="1956.5" y="869.5" font-size="49.9" letter-spacing="5.0" textLength="474.1" lengthAdjust="spacingAndGlyphs" fill="#000">- New pages for applications</text><text x="1958.0" y="869.5" font-size="49.9" letter-spacing="5.0" textLength="474.1" lengthAdjust="spacingAndGlyphs" fill="#000">- New pages for applications</text><text x="1959.5" y="869.5" font-size="49.9" letter-spacing="5.0" textLength="474.1" lengthAdjust="spacingAndGlyphs" fill="#000">- New pages for applications</text>
<text x="1956.5" y="920.0" font-size="49.9" letter-spacing="5.0" textLength="309.1" lengthAdjust="spacingAndGlyphs" fill="#000">- Addendum forms</text><text x="1958.0" y="920.0" font-size="49.9" letter-spacing="5.0" textLength="309.1" lengthAdjust="spacingAndGlyphs" fill="#000">- Addendum forms</text><text x="1959.5" y="920.0" font-size="49.9" letter-spacing="5.0" textLength="309.1" lengthAdjust="spacingAndGlyphs" fill="#000">- Addendum forms</text>
<text x="1956.5" y="969.6" font-size="49.9" letter-spacing="5.0" textLength="525.5" lengthAdjust="spacingAndGlyphs" fill="#000">- Selective Service applications</text><text x="1958.0" y="969.6" font-size="49.9" letter-spacing="5.0" textLength="525.5" lengthAdjust="spacingAndGlyphs" fill="#000">- Selective Service applications</text><text x="1959.5" y="969.6" font-size="49.9" letter-spacing="5.0" textLength="525.5" lengthAdjust="spacingAndGlyphs" fill="#000">- Selective Service applications</text>
<text x="2574.5" y="498.0" font-size="49.9" letter-spacing="5.0" textLength="545.1" lengthAdjust="spacingAndGlyphs" fill="#000">- USCIS citizenship testing study</text><text x="2576.0" y="498.0" font-size="49.9" letter-spacing="5.0" textLength="545.1" lengthAdjust="spacingAndGlyphs" fill="#000">- USCIS citizenship testing study</text><text x="2577.5" y="498.0" font-size="49.9" letter-spacing="5.0" textLength="545.1" lengthAdjust="spacingAndGlyphs" fill="#000">- USCIS citizenship testing study</text>
<text x="2603.5" y="548.0" font-size="49.9" letter-spacing="5.0" textLength="457.6" lengthAdjust="spacingAndGlyphs" fill="#000">guides in English &amp; Spanish</text><text x="2605.0" y="548.0" font-size="49.9" letter-spacing="5.0" textLength="457.6" lengthAdjust="spacingAndGlyphs" fill="#000">guides in English &amp; Spanish</text><text x="2606.5" y="548.0" font-size="49.9" letter-spacing="5.0" textLength="457.6" lengthAdjust="spacingAndGlyphs" fill="#000">guides in English &amp; Spanish</text>
<text x="2574.5" y="598.8" font-size="49.9" letter-spacing="5.0" textLength="602.8" lengthAdjust="spacingAndGlyphs" fill="#000">- Local citizenship class information</text><text x="2576.0" y="598.8" font-size="49.9" letter-spacing="5.0" textLength="602.8" lengthAdjust="spacingAndGlyphs" fill="#000">- Local citizenship class information</text><text x="2577.5" y="598.8" font-size="49.9" letter-spacing="5.0" textLength="602.8" lengthAdjust="spacingAndGlyphs" fill="#000">- Local citizenship class information</text>
<text x="2574.5" y="648.0" font-size="49.9" letter-spacing="5.0" textLength="573.1" lengthAdjust="spacingAndGlyphs" fill="#000">- Local language class information</text><text x="2576.0" y="648.0" font-size="49.9" letter-spacing="5.0" textLength="573.1" lengthAdjust="spacingAndGlyphs" fill="#000">- Local language class information</text><text x="2577.5" y="648.0" font-size="49.9" letter-spacing="5.0" textLength="573.1" lengthAdjust="spacingAndGlyphs" fill="#000">- Local language class information</text>
<text x="2574.5" y="698.3" font-size="49.9" letter-spacing="5.0" textLength="303.1" lengthAdjust="spacingAndGlyphs" fill="#000">- Notario booklets</text><text x="2576.0" y="698.3" font-size="49.9" letter-spacing="5.0" textLength="303.1" lengthAdjust="spacingAndGlyphs" fill="#000">- Notario booklets</text><text x="2577.5" y="698.3" font-size="49.9" letter-spacing="5.0" textLength="303.1" lengthAdjust="spacingAndGlyphs" fill="#000">- Notario booklets</text>
<text x="2574.5" y="748.3" font-size="49.9" letter-spacing="5.0" textLength="511.1" lengthAdjust="spacingAndGlyphs" fill="#000">- New DACA application guides</text><text x="2576.0" y="748.3" font-size="49.9" letter-spacing="5.0" textLength="511.1" lengthAdjust="spacingAndGlyphs" fill="#000">- New DACA application guides</text><text x="2577.5" y="748.3" font-size="49.9" letter-spacing="5.0" textLength="511.1" lengthAdjust="spacingAndGlyphs" fill="#000">- New DACA application guides</text>
<text x="2574.5" y="798.4" font-size="49.9" letter-spacing="5.0" textLength="584.1" lengthAdjust="spacingAndGlyphs" fill="#000">- Local lawyer/accredited rep. info.</text><text x="2576.0" y="798.4" font-size="49.9" letter-spacing="5.0" textLength="584.1" lengthAdjust="spacingAndGlyphs" fill="#000">- Local lawyer/accredited rep. info.</text><text x="2577.5" y="798.4" font-size="49.9" letter-spacing="5.0" textLength="584.1" lengthAdjust="spacingAndGlyphs" fill="#000">- Local lawyer/accredited rep. info.</text>
<text x="2574.5" y="848.5" font-size="49.9" letter-spacing="5.0" textLength="15.1" lengthAdjust="spacingAndGlyphs" fill="#000">-</text><text x="2576.0" y="848.5" font-size="49.9" letter-spacing="5.0" textLength="15.1" lengthAdjust="spacingAndGlyphs" fill="#000">-</text><text x="2577.5" y="848.5" font-size="49.9" letter-spacing="5.0" textLength="15.1" lengthAdjust="spacingAndGlyphs" fill="#000">-</text>
<text x="2604.5" y="848.5" font-size="49.9" letter-spacing="5.0" textLength="418.1" lengthAdjust="spacingAndGlyphs" fill="#000">Voter Registration Forms</text><text x="2606.0" y="848.5" font-size="49.9" letter-spacing="5.0" textLength="418.1" lengthAdjust="spacingAndGlyphs" fill="#000">Voter Registration Forms</text><text x="2607.5" y="848.5" font-size="49.9" letter-spacing="5.0" textLength="418.1" lengthAdjust="spacingAndGlyphs" fill="#000">Voter Registration Forms</text>
<text x="2574.5" y="898.5" font-size="49.9" letter-spacing="5.0" textLength="530.1" lengthAdjust="spacingAndGlyphs" fill="#000">- How to write a check to USCIS</text><text x="2576.0" y="898.5" font-size="49.9" letter-spacing="5.0" textLength="530.1" lengthAdjust="spacingAndGlyphs" fill="#000">- How to write a check to USCIS</text><text x="2577.5" y="898.5" font-size="49.9" letter-spacing="5.0" textLength="530.1" lengthAdjust="spacingAndGlyphs" fill="#000">- How to write a check to USCIS</text>
<text x="2639.5" y="975.8" font-size="49.9" letter-spacing="5.0" textLength="289.1" lengthAdjust="spacingAndGlyphs" fill="#000">- El Concilio copy</text><text x="2641.0" y="975.8" font-size="49.9" letter-spacing="5.0" textLength="289.1" lengthAdjust="spacingAndGlyphs" fill="#000">- El Concilio copy</text><text x="2642.5" y="975.8" font-size="49.9" letter-spacing="5.0" textLength="289.1" lengthAdjust="spacingAndGlyphs" fill="#000">- El Concilio copy</text>
<text x="2639.5" y="1025.0" font-size="49.9" letter-spacing="5.0" textLength="137.1" lengthAdjust="spacingAndGlyphs" fill="#000">- Waiver</text><text x="2641.0" y="1025.0" font-size="49.9" letter-spacing="5.0" textLength="137.1" lengthAdjust="spacingAndGlyphs" fill="#000">- Waiver</text><text x="2642.5" y="1025.0" font-size="49.9" letter-spacing="5.0" textLength="137.1" lengthAdjust="spacingAndGlyphs" fill="#000">- Waiver</text>
<text x="2639.5" y="1074.7" font-size="49.9" letter-spacing="5.0" textLength="403.7" lengthAdjust="spacingAndGlyphs" fill="#000">-Scrap paper SHRED file</text><text x="2641.0" y="1074.7" font-size="49.9" letter-spacing="5.0" textLength="403.7" lengthAdjust="spacingAndGlyphs" fill="#000">-Scrap paper SHRED file</text><text x="2642.5" y="1074.7" font-size="49.9" letter-spacing="5.0" textLength="403.7" lengthAdjust="spacingAndGlyphs" fill="#000">-Scrap paper SHRED file</text>
<path d="M2304.5,427.3 A43.2,43.2 0 0 1 2347.7,470.5 V502.8 A43.2,43.2 0 0 1 2304.5,546.0 H1937.7 A43.2,43.2 0 0 1 1894.5,502.8 V470.5 A43.2,43.2 0 0 1 1937.7,427.3 Z" fill="none" stroke="#dc0606" stroke-width="7.0" stroke-dasharray="101 25" stroke-linecap="round"/>
<path d="M2457.2,703.4 A43.0,43.0 0 0 1 2500.2,746.4 V945.0 A43.0,43.0 0 0 1 2457.2,988.0 H1918.6 A43.0,43.0 0 0 1 1875.6,945.0 V746.4 A43.0,43.0 0 0 1 1918.6,703.4 Z" fill="none" stroke="#3355ff" stroke-width="7.0" stroke-dasharray="101 25" stroke-linecap="round"/>
<path d="M3152.0,413.3 A43.0,43.0 0 0 1 3195.0,456.3 V866.3 A43.0,43.0 0 0 1 3152.0,909.3 H2581.3 A43.0,43.0 0 0 1 2538.3,866.3 V456.3 A43.0,43.0 0 0 1 2581.3,413.3 Z" fill="none" stroke="#dc0606" stroke-width="7.0" stroke-dasharray="101 25" stroke-linecap="round"/>
<path d="M3038.7,919.3 A44.0,44.0 0 0 1 3082.7,963.3 V1065.3 A44.0,44.0 0 0 1 3038.7,1109.3 H2645.3 A44.0,44.0 0 0 1 2601.3,1065.3 V963.3 A44.0,44.0 0 0 1 2645.3,919.3 Z" fill="none" stroke="#008000" stroke-width="7.0" stroke-dasharray="101 25" stroke-linecap="round"/>
<rect x="1861.6" y="1765.4" width="212.8" height="275.8" fill="#eaf1fd" stroke="#000" stroke-width="4.0" />
<text x="1897.0" y="1840.9" font-size="59.0" letter-spacing="6.5" textLength="121.2" lengthAdjust="spacingAndGlyphs" fill="#000">Work-</text><text x="1898.3" y="1840.9" font-size="59.0" letter-spacing="6.5" textLength="121.2" lengthAdjust="spacingAndGlyphs" fill="#000">Work-</text><text x="1899.7" y="1840.9" font-size="59.0" letter-spacing="6.5" textLength="121.2" lengthAdjust="spacingAndGlyphs" fill="#000">Work-</text><text x="1901.0" y="1840.9" font-size="59.0" letter-spacing="6.5" textLength="121.2" lengthAdjust="spacingAndGlyphs" fill="#000">Work-</text>
<text x="1903.1" y="1889.9" font-size="59.0" letter-spacing="6.5" textLength="110.0" lengthAdjust="spacingAndGlyphs" fill="#000">sheet</text><text x="1904.4" y="1889.9" font-size="59.0" letter-spacing="6.5" textLength="110.0" lengthAdjust="spacingAndGlyphs" fill="#000">sheet</text><text x="1905.8" y="1889.9" font-size="59.0" letter-spacing="6.5" textLength="110.0" lengthAdjust="spacingAndGlyphs" fill="#000">sheet</text><text x="1907.1" y="1889.9" font-size="59.0" letter-spacing="6.5" textLength="110.0" lengthAdjust="spacingAndGlyphs" fill="#000">sheet</text>
<rect x="1870.8" y="1929.1" width="212.9" height="276.4" fill="#fff" stroke="#000" stroke-width="4.0" />
<text x="1910.9" y="2020.8" font-size="59.0" letter-spacing="6.5" textLength="125.5" lengthAdjust="spacingAndGlyphs" fill="#000">N-400</text><text x="1912.2" y="2020.8" font-size="59.0" letter-spacing="6.5" textLength="125.5" lengthAdjust="spacingAndGlyphs" fill="#000">N-400</text><text x="1913.6" y="2020.8" font-size="59.0" letter-spacing="6.5" textLength="125.5" lengthAdjust="spacingAndGlyphs" fill="#000">N-400</text><text x="1914.9" y="2020.8" font-size="59.0" letter-spacing="6.5" textLength="125.5" lengthAdjust="spacingAndGlyphs" fill="#000">N-400</text>
<text x="1929.1" y="2070.4" font-size="59.0" letter-spacing="6.5" textLength="89.6" lengthAdjust="spacingAndGlyphs" fill="#000">App.</text><text x="1930.4" y="2070.4" font-size="59.0" letter-spacing="6.5" textLength="89.6" lengthAdjust="spacingAndGlyphs" fill="#000">App.</text><text x="1931.8" y="2070.4" font-size="59.0" letter-spacing="6.5" textLength="89.6" lengthAdjust="spacingAndGlyphs" fill="#000">App.</text><text x="1933.1" y="2070.4" font-size="59.0" letter-spacing="6.5" textLength="89.6" lengthAdjust="spacingAndGlyphs" fill="#000">App.</text>
<rect x="2162.9" y="1829.3" width="348.6" height="265.0" fill="#fff" stroke="#000" stroke-width="4.0" />
<text x="2258.3" y="1924.7" font-size="59.0" letter-spacing="6.5" textLength="131.7" lengthAdjust="spacingAndGlyphs" fill="#000">Copier</text><text x="2259.6" y="1924.7" font-size="59.0" letter-spacing="6.5" textLength="131.7" lengthAdjust="spacingAndGlyphs" fill="#000">Copier</text><text x="2261.0" y="1924.7" font-size="59.0" letter-spacing="6.5" textLength="131.7" lengthAdjust="spacingAndGlyphs" fill="#000">Copier</text><text x="2262.3" y="1924.7" font-size="59.0" letter-spacing="6.5" textLength="131.7" lengthAdjust="spacingAndGlyphs" fill="#000">Copier</text>
<rect x="2629.3" y="1814.7" width="293.0" height="221.4" fill="#fff" stroke="#000" stroke-width="4.0" />
<text x="2704.4" y="1888.0" font-size="59.0" letter-spacing="6.5" textLength="147.2" lengthAdjust="spacingAndGlyphs" fill="#000">Mailing</text><text x="2705.7" y="1888.0" font-size="59.0" letter-spacing="6.5" textLength="147.2" lengthAdjust="spacingAndGlyphs" fill="#000">Mailing</text><text x="2707.1" y="1888.0" font-size="59.0" letter-spacing="6.5" textLength="147.2" lengthAdjust="spacingAndGlyphs" fill="#000">Mailing</text><text x="2708.4" y="1888.0" font-size="59.0" letter-spacing="6.5" textLength="147.2" lengthAdjust="spacingAndGlyphs" fill="#000">Mailing</text>
<text x="2689.1" y="1937.4" font-size="59.0" letter-spacing="6.5" textLength="178.2" lengthAdjust="spacingAndGlyphs" fill="#000">envelope</text><text x="2690.4" y="1937.4" font-size="59.0" letter-spacing="6.5" textLength="178.2" lengthAdjust="spacingAndGlyphs" fill="#000">envelope</text><text x="2691.8" y="1937.4" font-size="59.0" letter-spacing="6.5" textLength="178.2" lengthAdjust="spacingAndGlyphs" fill="#000">envelope</text><text x="2693.1" y="1937.4" font-size="59.0" letter-spacing="6.5" textLength="178.2" lengthAdjust="spacingAndGlyphs" fill="#000">envelope</text>
<text x="2675.3" y="1987.2" font-size="59.0" letter-spacing="6.5" textLength="205.4" lengthAdjust="spacingAndGlyphs" fill="#000">and labels</text><text x="2676.6" y="1987.2" font-size="59.0" letter-spacing="6.5" textLength="205.4" lengthAdjust="spacingAndGlyphs" fill="#000">and labels</text><text x="2678.0" y="1987.2" font-size="59.0" letter-spacing="6.5" textLength="205.4" lengthAdjust="spacingAndGlyphs" fill="#000">and labels</text><text x="2679.3" y="1987.2" font-size="59.0" letter-spacing="6.5" textLength="205.4" lengthAdjust="spacingAndGlyphs" fill="#000">and labels</text>
<rect x="629.5" y="1891.3" width="275.5" height="213.7" fill="#fff" stroke="#000" stroke-width="3.5" />
<rect x="615.0" y="2162.0" width="276.7" height="213.6" fill="#eaf1fd" stroke="#000" stroke-width="3.5" />
<g transform="translate(704.1,2005.7) rotate(-90)"><text x="-62.4" y="0.0" font-size="59.6" letter-spacing="6.6" textLength="124.9" lengthAdjust="spacingAndGlyphs" fill="#000">N-400</text><text x="-61.1" y="0.0" font-size="59.6" letter-spacing="6.6" textLength="124.9" lengthAdjust="spacingAndGlyphs" fill="#000">N-400</text><text x="-59.7" y="0.0" font-size="59.6" letter-spacing="6.6" textLength="124.9" lengthAdjust="spacingAndGlyphs" fill="#000">N-400</text><text x="-58.3" y="0.0" font-size="59.6" letter-spacing="6.6" textLength="124.9" lengthAdjust="spacingAndGlyphs" fill="#000">N-400</text></g>
<g transform="translate(754.6,2007) rotate(-90)"><text x="-44.1" y="0.0" font-size="58.7" letter-spacing="6.5" textLength="88.1" lengthAdjust="spacingAndGlyphs" fill="#000">App.</text><text x="-42.7" y="0.0" font-size="58.7" letter-spacing="6.5" textLength="88.1" lengthAdjust="spacingAndGlyphs" fill="#000">App.</text><text x="-41.4" y="0.0" font-size="58.7" letter-spacing="6.5" textLength="88.1" lengthAdjust="spacingAndGlyphs" fill="#000">App.</text><text x="-40.0" y="0.0" font-size="58.7" letter-spacing="6.5" textLength="88.1" lengthAdjust="spacingAndGlyphs" fill="#000">App.</text></g>
<g transform="translate(690.9,2279.5) rotate(-90)"><text x="-61.0" y="0.0" font-size="59.6" letter-spacing="6.6" textLength="122.0" lengthAdjust="spacingAndGlyphs" fill="#000">Work-</text><text x="-59.6" y="0.0" font-size="59.6" letter-spacing="6.6" textLength="122.0" lengthAdjust="spacingAndGlyphs" fill="#000">Work-</text><text x="-58.3" y="0.0" font-size="59.6" letter-spacing="6.6" textLength="122.0" lengthAdjust="spacingAndGlyphs" fill="#000">Work-</text><text x="-56.9" y="0.0" font-size="59.6" letter-spacing="6.6" textLength="122.0" lengthAdjust="spacingAndGlyphs" fill="#000">Work-</text></g>
<g transform="translate(741.4,2279) rotate(-90)"><text x="-54.2" y="0.0" font-size="59.0" letter-spacing="6.5" textLength="108.4" lengthAdjust="spacingAndGlyphs" fill="#000">sheet</text><text x="-52.8" y="0.0" font-size="59.0" letter-spacing="6.5" textLength="108.4" lengthAdjust="spacingAndGlyphs" fill="#000">sheet</text><text x="-51.5" y="0.0" font-size="59.0" letter-spacing="6.5" textLength="108.4" lengthAdjust="spacingAndGlyphs" fill="#000">sheet</text><text x="-50.1" y="0.0" font-size="59.0" letter-spacing="6.5" textLength="108.4" lengthAdjust="spacingAndGlyphs" fill="#000">sheet</text></g>
<g transform="translate(1870,130)">
<polygon points="33.0,118.0 24.0,134.0 20.0,156.0 26.0,193.0 38.0,199.6 46.0,172.0 58.0,169.6 61.0,182.0 65.0,162.0 50.0,140.0" fill="#fff" stroke="#2a2a2a" stroke-width="1.7" stroke-linejoin="round" stroke-linecap="round" />
<polygon points="106.0,184.0 120.0,230.0 148.0,258.0 158.0,257.0 170.0,248.0 176.0,218.0 140.0,200.0" fill="#fff" stroke="#2a2a2a" stroke-width="1.7" stroke-linejoin="round" stroke-linecap="round" />
<polygon points="260.0,218.0 264.0,230.0 290.0,257.0 302.0,257.0 312.0,240.0 322.0,202.0 320.0,170.0 290.0,200.0" fill="#fff" stroke="#2a2a2a" stroke-width="1.7" stroke-linejoin="round" stroke-linecap="round" />
<polygon points="359.0,148.0 363.0,165.0 366.0,153.0 377.0,155.0 386.0,182.0 397.0,176.0 404.0,140.0 400.0,118.0 380.0,130.0" fill="#fff" stroke="#2a2a2a" stroke-width="1.7" stroke-linejoin="round" stroke-linecap="round" />
<polygon points="153.0,53.0 178.0,30.0 192.0,31.0 204.0,24.0 262.0,36.0 278.0,56.0 284.0,66.0 287.0,108.0 280.0,122.0 260.0,148.0 238.0,171.0 214.0,170.0 192.0,150.0 174.0,130.0 158.0,106.0 154.0,96.0 150.0,70.0" fill="#fff" stroke="#2a2a2a" stroke-width="1.7" stroke-linejoin="round" stroke-linecap="round" />
<path d="M30.0,100.0 C29.7,91.3 33.0,79.0 38.0,72.0 C43.0,65.0 51.3,60.2 60.0,58.0 C68.7,55.8 80.0,58.0 90.0,59.0 C100.0,60.0 110.0,62.2 120.0,64.0 C130.0,65.8 144.3,64.7 150.0,70.0 C155.7,75.3 152.7,90.0 154.0,96.0 C155.3,102.0 154.7,100.3 158.0,106.0 C161.3,111.7 168.3,122.7 174.0,130.0 C179.7,137.3 185.3,143.3 192.0,150.0 C198.7,156.7 206.3,166.5 214.0,170.0 C221.7,173.5 230.3,174.7 238.0,171.0 C245.7,167.3 253.0,156.2 260.0,148.0 C267.0,139.8 275.5,128.7 280.0,122.0 C284.5,115.3 286.5,118.3 287.0,108.0 C287.5,97.7 279.5,69.5 283.0,60.0 C286.5,50.5 298.8,51.8 308.0,51.0 C317.2,50.2 329.7,55.3 338.0,55.0 C346.3,54.7 351.7,50.0 358.0,49.0 C364.3,48.0 369.7,46.5 376.0,49.0 C382.3,51.5 391.0,57.8 396.0,64.0 C401.0,70.2 404.7,78.3 406.0,86.0 C407.3,93.7 406.7,103.7 404.0,110.0 C401.3,116.3 396.7,119.3 390.0,124.0 C383.3,128.7 372.3,133.0 364.0,138.0 C355.7,143.0 348.7,148.7 340.0,154.0 C331.3,159.3 318.0,163.7 312.0,170.0 C306.0,176.3 309.7,185.0 304.0,192.0 C298.3,199.0 291.0,207.0 278.0,212.0 C265.0,217.0 243.0,221.3 226.0,222.0 C209.0,222.7 190.3,219.3 176.0,216.0 C161.7,212.7 152.0,207.3 140.0,202.0 C128.0,196.7 116.3,191.3 104.0,184.0 C91.7,176.7 76.7,168.0 66.0,158.0 C55.3,148.0 46.0,133.7 40.0,124.0 C34.0,114.3 30.3,108.7 30.0,100.0Z" fill="#e96a6a" stroke="#a02525" stroke-width="1.6" stroke-linejoin="round"/>
<polyline points="170.0,42.0 175.0,55.0" fill="none" stroke="#2a2a2a" stroke-width="1.6" stroke-linejoin="round" stroke-linecap="round" />
<polyline points="155.0,78.0 175.0,106.0" fill="none" stroke="#2a2a2a" stroke-width="1.6" stroke-linejoin="round" stroke-linecap="round" />
<polyline points="199.0,85.0 214.0,94.0 227.0,98.0" fill="none" stroke="#2a2a2a" stroke-width="1.6" stroke-linejoin="round" stroke-linecap="round" />
<polyline points="241.0,65.0 252.0,115.0 262.0,122.0 279.0,125.0" fill="none" stroke="#2a2a2a" stroke-width="1.6" stroke-linejoin="round" stroke-linecap="round" />
<polyline points="252.0,115.0 230.0,130.0 212.0,139.0 188.0,141.0" fill="none" stroke="#2a2a2a" stroke-width="1.6" stroke-linejoin="round" stroke-linecap="round" />
<polyline points="214.0,126.0 230.0,126.4" fill="none" stroke="#2a2a2a" stroke-width="1.6" stroke-linejoin="round" stroke-linecap="round" />
<polyline points="360.0,132.0 352.0,144.0" fill="none" stroke="#2a2a2a" stroke-width="1.6" stroke-linejoin="round" stroke-linecap="round" />
</g>
<g transform="translate(1934,1446)">
<polygon points="33.0,118.0 24.0,134.0 20.0,156.0 26.0,193.0 38.0,199.6 46.0,172.0 58.0,169.6 61.0,182.0 65.0,162.0 50.0,140.0" fill="#fff" stroke="#2a2a2a" stroke-width="1.7" stroke-linejoin="round" stroke-linecap="round" />
<polygon points="106.0,184.0 120.0,230.0 148.0,258.0 158.0,257.0 170.0,248.0 176.0,218.0 140.0,200.0" fill="#fff" stroke="#2a2a2a" stroke-width="1.7" stroke-linejoin="round" stroke-linecap="round" />
<polygon points="260.0,218.0 264.0,230.0 290.0,257.0 302.0,257.0 312.0,240.0 322.0,202.0 320.0,170.0 290.0,200.0" fill="#fff" stroke="#2a2a2a" stroke-width="1.7" stroke-linejoin="round" stroke-linecap="round" />
<polygon points="359.0,148.0 363.0,165.0 366.0,153.0 377.0,155.0 386.0,182.0 397.0,176.0 404.0,140.0 400.0,118.0 380.0,130.0" fill="#fff" stroke="#2a2a2a" stroke-width="1.7" stroke-linejoin="round" stroke-linecap="round" />
<polygon points="153.0,53.0 178.0,30.0 192.0,31.0 204.0,24.0 262.0,36.0 278.0,56.0 284.0,66.0 287.0,108.0 280.0,122.0 260.0,148.0 238.0,171.0 214.0,170.0 192.0,150.0 174.0,130.0 158.0,106.0 154.0,96.0 150.0,70.0" fill="#fff" stroke="#2a2a2a" stroke-width="1.7" stroke-linejoin="round" stroke-linecap="round" />
<path d="M30.0,100.0 C29.7,91.3 33.0,79.0 38.0,72.0 C43.0,65.0 51.3,60.2 60.0,58.0 C68.7,55.8 80.0,58.0 90.0,59.0 C100.0,60.0 110.0,62.2 120.0,64.0 C130.0,65.8 144.3,64.7 150.0,70.0 C155.7,75.3 152.7,90.0 154.0,96.0 C155.3,102.0 154.7,100.3 158.0,106.0 C161.3,111.7 168.3,122.7 174.0,130.0 C179.7,137.3 185.3,143.3 192.0,150.0 C198.7,156.7 206.3,166.5 214.0,170.0 C221.7,173.5 230.3,174.7 238.0,171.0 C245.7,167.3 253.0,156.2 260.0,148.0 C267.0,139.8 275.5,128.7 280.0,122.0 C284.5,115.3 286.5,118.3 287.0,108.0 C287.5,97.7 279.5,69.5 283.0,60.0 C286.5,50.5 298.8,51.8 308.0,51.0 C317.2,50.2 329.7,55.3 338.0,55.0 C346.3,54.7 351.7,50.0 358.0,49.0 C364.3,48.0 369.7,46.5 376.0,49.0 C382.3,51.5 391.0,57.8 396.0,64.0 C401.0,70.2 404.7,78.3 406.0,86.0 C407.3,93.7 406.7,103.7 404.0,110.0 C401.3,116.3 396.7,119.3 390.0,124.0 C383.3,128.7 372.3,133.0 364.0,138.0 C355.7,143.0 348.7,148.7 340.0,154.0 C331.3,159.3 318.0,163.7 312.0,170.0 C306.0,176.3 309.7,185.0 304.0,192.0 C298.3,199.0 291.0,207.0 278.0,212.0 C265.0,217.0 243.0,221.3 226.0,222.0 C209.0,222.7 190.3,219.3 176.0,216.0 C161.7,212.7 152.0,207.3 140.0,202.0 C128.0,196.7 116.3,191.3 104.0,184.0 C91.7,176.7 76.7,168.0 66.0,158.0 C55.3,148.0 46.0,133.7 40.0,124.0 C34.0,114.3 30.3,108.7 30.0,100.0Z" fill="#e96a6a" stroke="#a02525" stroke-width="1.6" stroke-linejoin="round"/>
<polyline points="170.0,42.0 175.0,55.0" fill="none" stroke="#2a2a2a" stroke-width="1.6" stroke-linejoin="round" stroke-linecap="round" />
<polyline points="155.0,78.0 175.0,106.0" fill="none" stroke="#2a2a2a" stroke-width="1.6" stroke-linejoin="round" stroke-linecap="round" />
<polyline points="199.0,85.0 214.0,94.0 227.0,98.0" fill="none" stroke="#2a2a2a" stroke-width="1.6" stroke-linejoin="round" stroke-linecap="round" />
<polyline points="241.0,65.0 252.0,115.0 262.0,122.0 279.0,125.0" fill="none" stroke="#2a2a2a" stroke-width="1.6" stroke-linejoin="round" stroke-linecap="round" />
<polyline points="252.0,115.0 230.0,130.0 212.0,139.0 188.0,141.0" fill="none" stroke="#2a2a2a" stroke-width="1.6" stroke-linejoin="round" stroke-linecap="round" />
<polyline points="214.0,126.0 230.0,126.4" fill="none" stroke="#2a2a2a" stroke-width="1.6" stroke-linejoin="round" stroke-linecap="round" />
<polyline points="360.0,132.0 352.0,144.0" fill="none" stroke="#2a2a2a" stroke-width="1.6" stroke-linejoin="round" stroke-linecap="round" />
</g>
<g transform="translate(367,2053.5) rotate(-90) scale(1.075) translate(-218,-135.5)">
<polygon points="33.0,118.0 24.0,134.0 20.0,156.0 26.0,193.0 38.0,199.6 46.0,172.0 58.0,169.6 61.0,182.0 65.0,162.0 50.0,140.0" fill="#fff" stroke="#2a2a2a" stroke-width="1.7" stroke-linejoin="round" stroke-linecap="round" />
<polygon points="106.0,184.0 120.0,230.0 148.0,258.0 158.0,257.0 170.0,248.0 176.0,218.0 140.0,200.0" fill="#fff" stroke="#2a2a2a" stroke-width="1.7" stroke-linejoin="round" stroke-linecap="round" />
<polygon points="260.0,218.0 264.0,230.0 290.0,257.0 302.0,257.0 312.0,240.0 322.0,202.0 320.0,170.0 290.0,200.0" fill="#fff" stroke="#2a2a2a" stroke-width="1.7" stroke-linejoin="round" stroke-linecap="round" />
<polygon points="359.0,148.0 363.0,165.0 366.0,153.0 377.0,155.0 386.0,182.0 397.0,176.0 404.0,140.0 400.0,118.0 380.0,130.0" fill="#fff" stroke="#2a2a2a" stroke-width="1.7" stroke-linejoin="round" stroke-linecap="round" />
<polygon points="153.0,53.0 178.0,30.0 192.0,31.0 204.0,24.0 262.0,36.0 278.0,56.0 284.0,66.0 287.0,108.0 280.0,122.0 260.0,148.0 238.0,171.0 214.0,170.0 192.0,150.0 174.0,130.0 158.0,106.0 154.0,96.0 150.0,70.0" fill="#fff" stroke="#2a2a2a" stroke-width="1.7" stroke-linejoin="round" stroke-linecap="round" />
<path d="M30.0,100.0 C29.7,91.3 33.0,79.0 38.0,72.0 C43.0,65.0 51.3,60.2 60.0,58.0 C68.7,55.8 80.0,58.0 90.0,59.0 C100.0,60.0 110.0,62.2 120.0,64.0 C130.0,65.8 144.3,64.7 150.0,70.0 C155.7,75.3 152.7,90.0 154.0,96.0 C155.3,102.0 154.7,100.3 158.0,106.0 C161.3,111.7 168.3,122.7 174.0,130.0 C179.7,137.3 185.3,143.3 192.0,150.0 C198.7,156.7 206.3,166.5 214.0,170.0 C221.7,173.5 230.3,174.7 238.0,171.0 C245.7,167.3 253.0,156.2 260.0,148.0 C267.0,139.8 275.5,128.7 280.0,122.0 C284.5,115.3 286.5,118.3 287.0,108.0 C287.5,97.7 279.5,69.5 283.0,60.0 C286.5,50.5 298.8,51.8 308.0,51.0 C317.2,50.2 329.7,55.3 338.0,55.0 C346.3,54.7 351.7,50.0 358.0,49.0 C364.3,48.0 369.7,46.5 376.0,49.0 C382.3,51.5 391.0,57.8 396.0,64.0 C401.0,70.2 404.7,78.3 406.0,86.0 C407.3,93.7 406.7,103.7 404.0,110.0 C401.3,116.3 396.7,119.3 390.0,124.0 C383.3,128.7 372.3,133.0 364.0,138.0 C355.7,143.0 348.7,148.7 340.0,154.0 C331.3,159.3 318.0,163.7 312.0,170.0 C306.0,176.3 309.7,185.0 304.0,192.0 C298.3,199.0 291.0,207.0 278.0,212.0 C265.0,217.0 243.0,221.3 226.0,222.0 C209.0,222.7 190.3,219.3 176.0,216.0 C161.7,212.7 152.0,207.3 140.0,202.0 C128.0,196.7 116.3,191.3 104.0,184.0 C91.7,176.7 76.7,168.0 66.0,158.0 C55.3,148.0 46.0,133.7 40.0,124.0 C34.0,114.3 30.3,108.7 30.0,100.0Z" fill="#e96a6a" stroke="#a02525" stroke-width="1.6" stroke-linejoin="round"/>
<polyline points="170.0,42.0 175.0,55.0" fill="none" stroke="#2a2a2a" stroke-width="1.6" stroke-linejoin="round" stroke-linecap="round" />
<polyline points="155.0,78.0 175.0,106.0" fill="none" stroke="#2a2a2a" stroke-width="1.6" stroke-linejoin="round" stroke-linecap="round" />
<polyline points="199.0,85.0 214.0,94.0 227.0,98.0" fill="none" stroke="#2a2a2a" stroke-width="1.6" stroke-linejoin="round" stroke-linecap="round" />
<polyline points="241.0,65.0 252.0,115.0 262.0,122.0 279.0,125.0" fill="none" stroke="#2a2a2a" stroke-width="1.6" stroke-linejoin="round" stroke-linecap="round" />
<polyline points="252.0,115.0 230.0,130.0 212.0,139.0 188.0,141.0" fill="none" stroke="#2a2a2a" stroke-width="1.6" stroke-linejoin="round" stroke-linecap="round" />
<polyline points="214.0,126.0 230.0,126.4" fill="none" stroke="#2a2a2a" stroke-width="1.6" stroke-linejoin="round" stroke-linecap="round" />
<polyline points="360.0,132.0 352.0,144.0" fill="none" stroke="#2a2a2a" stroke-width="1.6" stroke-linejoin="round" stroke-linecap="round" />
</g>
<polygon points="380.7,440.4 557.2,440.4 498.4,478.8 484.8,494.7 457.6,515.0 426.0,519.5 385.2,510.5" fill="#fff" stroke="#fff" stroke-width="6.0" stroke-linejoin="round" stroke-linecap="round" />
<polygon points="426.0,519.5 466.7,510.5 498.4,526.3 534.6,537.6 557.2,564.8 570.8,601.0 543.6,637.2 525.5,634.9 489.3,610.0 435.0,623.6 414.7,630.4 398.8,601.0 407.9,587.4" fill="#fff" stroke="#fff" stroke-width="6.0" stroke-linejoin="round" stroke-linecap="round" />
<polygon points="324.7,436.9 432.7,439.4 427.8,446.8 393.4,455.3 391.0,494.6 418.0,508.1 431.5,533.8 327.2,492.1 319.8,502.0 307.6,495.8 326.0,473.7" fill="#fff" stroke="#fff" stroke-width="3.0" stroke-linejoin="round" stroke-linecap="round" />
<polygon points="195.9,398.9 218.0,359.7 236.4,330.2 278.1,267.7 313.7,246.8 397.1,229.6 516.1,235.8 543.1,270.1 584.8,337.6 602.0,398.9 575.0,435.7 528.4,455.3 503.8,460.2 496.5,456.6 445.0,473.7 427.8,446.8 432.7,439.4 324.7,436.9 326.0,473.7 307.6,495.8 319.8,502.0 327.2,492.1 431.5,533.8 405.7,591.5 270.8,526.5 200.9,439.4" fill="#fff" stroke="#fff" stroke-width="18.0" stroke-linejoin="round" stroke-linecap="round" />
<polygon points="195.9,398.9 218.0,359.7 236.4,330.2 278.1,267.7 313.7,246.8 397.1,229.6 516.1,235.8 543.1,270.1 584.8,337.6 602.0,398.9 575.0,435.7 528.4,455.3 503.8,460.2 496.5,456.6 445.0,473.7 427.8,446.8 432.7,439.4 324.7,436.9 326.0,473.7 307.6,495.8 319.8,502.0 327.2,492.1 431.5,533.8 405.7,591.5 270.8,526.5 200.9,439.4" fill="#e96a6a" stroke="#6d1b1b" stroke-width="2.0" stroke-linejoin="round" stroke-linecap="round" />
<polygon points="419.2,261.5 472.0,273.8 513.7,297.1 514.9,369.5 494.0,381.7 484.2,402.6 437.6,405.0 415.5,389.1 393.4,380.5 381.2,371.9 365.2,321.6 399.6,275.0" fill="#fff" stroke="#333" stroke-width="2.0" stroke-linejoin="round" stroke-linecap="round" />
<polyline points="380.0,357.2 388.5,352.3 457.2,395.2 496.5,381.7" fill="none" stroke="#333" stroke-width="2.2" stroke-linejoin="round" stroke-linecap="round" />
<polyline points="473.2,310.1 500.2,335.1 508.0,370.0" fill="none" stroke="#000" stroke-width="2.4" stroke-linejoin="round" stroke-linecap="round" />
<polyline points="361.6,289.7 322.3,316.7 328.4,367.0 350.5,365.8 333.3,385.4 368.9,407.5" fill="none" stroke="#8e1f1f" stroke-width="2.2" stroke-linejoin="round" stroke-linecap="round" />
<polyline points="258.5,365.8 295.3,392.8 314.9,421.0 322.3,455.3" fill="none" stroke="#8e1f1f" stroke-width="2.2" stroke-linejoin="round" stroke-linecap="round" />
<polyline points="218.0,359.7 236.4,455.3 251.1,499.5" fill="none" stroke="#8e1f1f" stroke-width="2.2" stroke-linejoin="round" stroke-linecap="round" />
<polyline points="427.8,446.8 481.8,416.1 545.6,385.4 577.4,391.6" fill="none" stroke="#8e1f1f" stroke-width="2.2" stroke-linejoin="round" stroke-linecap="round" />
<polygon points="393.4,455.3 427.8,445.5 445.0,473.7 440.1,487.2 418.0,508.1 392.2,494.6 391.0,457.8" fill="#fff" stroke="#333" stroke-width="2.6" stroke-linejoin="round" stroke-linecap="round" />
<polygon points="431.5,533.8 452.3,546.1 437.6,580.5 416.8,575.6" fill="#fff" stroke="#333" stroke-width="2.6" stroke-linejoin="round" stroke-linecap="round" />
<polygon points="452.3,546.1 474.4,543.7 491.6,536.3 523.5,544.9 501.4,553.5 523.5,553.5 543.1,569.4 530.8,594.0 491.6,592.7 449.9,570.6 445.0,563.3" fill="#fff" stroke="#333" stroke-width="2.6" stroke-linejoin="round" stroke-linecap="round" />
<polyline points="484.2,482.3 498.9,473.7" fill="none" stroke="#000" stroke-width="4.0" stroke-linejoin="round" stroke-linecap="round" />
<polyline points="432.7,504.4 440.1,508.1" fill="none" stroke="#000" stroke-width="4.0" stroke-linejoin="round" stroke-linecap="round" />
<polygon points="416.6,1110.0 366.3,1127.4 333.5,1173.8 323.8,1220.2 298.6,1235.7 273.5,1359.5 366.3,1460.1 416.6,1471.7 428.2,1475.5 459.2,1522.0 517.2,1539.4 563.6,1512.3 586.8,1469.7 583.0,1452.3 619.7,1433.0 629.4,1398.2 627.5,1251.2 637.1,1202.8 610.1,1181.5 598.5,1119.6 577.2,1069.3 563.6,1067.4 563.6,1092.6 542.4,1096.4 575.2,1162.2 586.8,1181.5 577.2,1183.5 577.2,1266.6 536.6,1289.8 517.2,1289.8 424.4,1301.5 385.7,1316.9 366.3,1284.0 356.7,1243.4 370.2,1183.5 408.9,1158.3 410.8,1152.5 387.6,1158.3 412.8,1127.4" fill="#fff" stroke="#fff" stroke-width="16.0" stroke-linejoin="round" stroke-linecap="round" />
<rect x="548.0" y="1036.0" width="52.0" height="44.0" fill="#fff" stroke="#fff" stroke-width="1.0" />
<rect x="560.0" y="1075.0" width="30.0" height="165.0" fill="#fff" stroke="#fff" stroke-width="1.0" />
<rect x="357.0" y="1222.0" width="203.0" height="12.0" fill="#fff" stroke="#fff" stroke-width="1.0" />
<line x1="360.0" y1="1229.6" x2="558.0" y2="1229.6" stroke="#000" stroke-width="2.0" stroke-linecap="butt"/>
<line x1="356.0" y1="1249.0" x2="580.0" y2="1249.0" stroke="#000" stroke-width="5.0" stroke-linecap="butt"/>
<polygon points="416.6,1110.0 366.3,1127.4 333.5,1173.8 323.8,1220.2 298.6,1235.7 273.5,1359.5 366.3,1460.1 416.6,1471.7 428.2,1475.5 459.2,1522.0 517.2,1539.4 563.6,1512.3 586.8,1469.7 583.0,1452.3 619.7,1433.0 629.4,1398.2 627.5,1251.2 637.1,1202.8 610.1,1181.5 598.5,1119.6 577.2,1069.3 563.6,1067.4 563.6,1092.6 542.4,1096.4 575.2,1162.2 586.8,1181.5 577.2,1183.5 577.2,1266.6 536.6,1289.8 517.2,1289.8 424.4,1301.5 385.7,1316.9 366.3,1284.0 356.7,1243.4 370.2,1183.5 408.9,1158.3 410.8,1152.5 387.6,1158.3 412.8,1127.4" fill="#fff" stroke="#333" stroke-width="2.7" stroke-linejoin="round" stroke-linecap="round" />
<polyline points="356.7,1243.4 335.4,1282.1 339.3,1351.7 385.7,1390.4 374.1,1359.5 377.9,1320.8 385.7,1316.9" fill="none" stroke="#333" stroke-width="2.7" stroke-linejoin="round" stroke-linecap="round" />
<polyline points="335.4,1229.9 354.7,1239.6" fill="none" stroke="#333" stroke-width="2.7" stroke-linejoin="round" stroke-linecap="round" />
<polyline points="536.6,1289.8 563.6,1309.2" fill="none" stroke="#333" stroke-width="2.7" stroke-linejoin="round" stroke-linecap="round" />
<polyline points="577.2,1266.6 563.6,1320.8 592.6,1353.7 563.6,1345.9 563.6,1371.1 583.0,1452.3" fill="none" stroke="#333" stroke-width="2.7" stroke-linejoin="round" stroke-linecap="round" />
<polyline points="416.6,1421.4 428.2,1407.8 441.8,1417.5 457.3,1369.1 470.8,1361.4 505.6,1367.2 528.8,1390.4 528.8,1419.4 513.3,1407.8 470.8,1411.7 459.2,1433.0 441.8,1417.5" fill="none" stroke="#333" stroke-width="2.7" stroke-linejoin="round" stroke-linecap="round" />
<polyline points="509.5,1355.6 517.2,1347.9 548.2,1355.6 571.4,1382.7 583.0,1452.3" fill="none" stroke="#333" stroke-width="2.7" stroke-linejoin="round" stroke-linecap="round" />
<polyline points="416.6,1421.4 420.5,1440.7 428.2,1475.5" fill="none" stroke="#333" stroke-width="2.7" stroke-linejoin="round" stroke-linecap="round" />
<polyline points="542.4,1096.4 559.8,1115.8" fill="none" stroke="#333" stroke-width="2.7" stroke-linejoin="round" stroke-linecap="round" />
<polyline points="567.5,1162.2 586.8,1181.5" fill="none" stroke="#333" stroke-width="2.7" stroke-linejoin="round" stroke-linecap="round" />
<polygon points="1317.9,1151.8 1367.9,1154.6 1342.9,1164.3 1341.1,1187.5 1364.3,1169.6 1373.2,1171.4 1360.7,1191.1 1332.1,1201.8 1307.1,1212.5 1294.6,1248.2 1291.1,1264.3 1371.4,1239.3 1519.6,1246.4 1542.9,1195.7 1546.4,1161.4 1517.9,1132.1 1501.8,1089.3 1507.1,1087.5 1517.9,1110.7 1525.0,1107.1 1523.2,1076.8 1528.6,1073.2 1583.9,1103.6 1583.9,1161.4 1594.6,1163.6 1598.2,1195.7 1616.1,1196.4 1607.1,1250.0 1591.1,1328.6 1557.1,1364.3 1507.1,1407.1 1457.1,1444.6 1407.1,1457.1 1332.1,1435.7 1244.6,1403.6 1214.3,1378.6 1194.6,1357.1 1191.1,1316.1 1203.6,1278.6 1217.9,1250.0 1246.4,1203.6 1267.9,1201.8 1282.1,1192.9 1300.0,1169.6" fill="#fff" stroke="#fff" stroke-width="16.0" stroke-linejoin="round" stroke-linecap="round" />
<rect x="1301.0" y="1116.0" width="107.0" height="78.0" fill="#fff" stroke="#fff" stroke-width="1.0" />
<rect x="1318.0" y="1190.0" width="90.0" height="12.0" fill="#fff" stroke="#fff" stroke-width="1.0" />
<rect x="1529.0" y="1067.0" width="13.0" height="95.0" fill="#fff" stroke="#fff" stroke-width="1.0" />
<rect x="1578.0" y="1085.0" width="16.0" height="115.0" fill="#fff" stroke="#fff" stroke-width="1.0" />
<line x1="1296.0" y1="1249.0" x2="1352.0" y2="1249.0" stroke="#000" stroke-width="5.0" stroke-linecap="butt"/>
<polygon points="1317.9,1151.8 1367.9,1154.6 1342.9,1164.3 1341.1,1187.5 1364.3,1169.6 1373.2,1171.4 1360.7,1191.1 1332.1,1201.8 1307.1,1212.5 1294.6,1248.2 1291.1,1264.3 1371.4,1239.3 1519.6,1246.4 1542.9,1195.7 1546.4,1161.4 1517.9,1132.1 1501.8,1089.3 1507.1,1087.5 1517.9,1110.7 1525.0,1107.1 1523.2,1076.8 1528.6,1073.2 1583.9,1103.6 1583.9,1161.4 1594.6,1163.6 1598.2,1195.7 1616.1,1196.4 1607.1,1250.0 1591.1,1328.6 1557.1,1364.3 1507.1,1407.1 1457.1,1444.6 1407.1,1457.1 1332.1,1435.7 1244.6,1403.6 1214.3,1378.6 1194.6,1357.1 1191.1,1316.1 1203.6,1278.6 1217.9,1250.0 1246.4,1203.6 1267.9,1201.8 1282.1,1192.9 1300.0,1169.6" fill="#fff" stroke="#333" stroke-width="2.7" stroke-linejoin="round" stroke-linecap="round" />
<polyline points="1546.4,1161.4 1583.9,1161.4" fill="none" stroke="#333" stroke-width="2.7" stroke-linejoin="round" stroke-linecap="round" />
<polyline points="1542.9,1195.7 1598.2,1195.7" fill="none" stroke="#333" stroke-width="2.7" stroke-linejoin="round" stroke-linecap="round" />
<polyline points="1519.6,1246.4 1494.6,1308.9" fill="none" stroke="#333" stroke-width="2.7" stroke-linejoin="round" stroke-linecap="round" />
<polyline points="1291.1,1264.3 1285.7,1278.6 1226.8,1316.1 1216.1,1346.4" fill="none" stroke="#333" stroke-width="2.7" stroke-linejoin="round" stroke-linecap="round" />
<polyline points="1216.1,1282.1 1233.9,1267.9 1257.1,1278.6" fill="none" stroke="#333" stroke-width="2.7" stroke-linejoin="round" stroke-linecap="round" />
<polyline points="1278.6,1346.4 1323.2,1278.6 1335.7,1287.5 1375.0,1303.6 1383.9,1300.0 1378.6,1332.1 1344.6,1325.0 1321.4,1333.9 1307.1,1353.6 1291.1,1357.1 1278.6,1346.4" fill="none" stroke="#333" stroke-width="2.7" stroke-linejoin="round" stroke-linecap="round" />
<polyline points="1383.9,1300.0 1417.9,1328.6 1428.6,1375.0 1382.1,1423.2 1332.1,1428.6 1276.8,1385.7 1278.6,1346.4" fill="none" stroke="#333" stroke-width="2.7" stroke-linejoin="round" stroke-linecap="round" />
<clipPath id="fdclip"><rect x="2100" y="1129" width="700" height="330"/></clipPath><g clip-path="url(#fdclip)">
<polygon points="2347.6,1127.7 2304.6,1148.1 2269.9,1143.2 2247.4,1150.2 2242.1,1168.6 2253.5,1191.1 2282.1,1221.7 2310.8,1236.0 2314.9,1252.4 2278.1,1258.5 2273.1,1274.1 2296.5,1302.7 2323.0,1317.8 2327.1,1332.1 2347.6,1348.5 2374.1,1355.9 2402.8,1342.4 2425.3,1315.8 2433.4,1299.4 2466.1,1308.4 2507.0,1283.9 2532.4,1258.5 2550.0,1226.6 2554.9,1208.7 2486.6,1144.9 2449.8,1136.7 2531.6,1127.7" fill="#fff" stroke="#fff" stroke-width="12.0" stroke-linejoin="round" stroke-linecap="round" />
<path d="M2304.6,1149.4 C2301.6,1148.5 2293.0,1144.9 2286.2,1144.0 C2279.4,1143.2 2270.2,1143.0 2263.7,1144.0 C2257.3,1145.1 2251.0,1146.8 2247.4,1150.6 C2243.8,1154.3 2241.6,1160.5 2242.1,1166.5 C2242.5,1172.6 2245.6,1179.5 2250.2,1187.0 C2254.9,1194.5 2262.9,1204.7 2269.9,1211.5 C2276.9,1218.3 2285.4,1223.8 2292.4,1227.9 C2299.3,1232.0 2308.4,1234.7 2311.6,1236.0" fill="none" stroke="#1c1c1c" stroke-width="3.0" stroke-linecap="round" stroke-linejoin="round"/>
<path d="M2347.6,1129.7 C2340.6,1133.0 2314.6,1142.2 2305.9,1149.4 C2297.1,1156.5 2296.3,1163.0 2295.2,1172.7 C2294.1,1182.3 2296.6,1196.9 2299.3,1207.4 C2302.0,1218.0 2309.5,1231.3 2311.6,1236.0" fill="none" stroke="#1c1c1c" stroke-width="3.0" stroke-linecap="round" stroke-linejoin="round"/>
<polyline points="2311.6,1236.0 2327.1,1233.2 2340.2,1263.4" fill="none" stroke="#1c1c1c" stroke-width="3.0" stroke-linejoin="round" stroke-linecap="round" />
<path d="M2354.9,1131.0 C2352.3,1135.2 2342.7,1147.7 2339.4,1156.3 C2336.1,1165.0 2334.5,1173.4 2335.3,1182.9 C2336.1,1192.4 2339.9,1203.0 2344.3,1213.6 C2348.7,1224.1 2355.9,1235.7 2361.9,1246.3 C2367.9,1256.8 2372.4,1268.9 2380.3,1276.9 C2388.1,1285.0 2401.3,1290.4 2408.9,1294.5 C2416.5,1298.6 2423.2,1300.3 2426.1,1301.5" fill="none" stroke="#1c1c1c" stroke-width="3.0" stroke-linecap="round" stroke-linejoin="round"/>
<path d="M2449.0,1137.1 C2442.3,1137.8 2420.3,1138.9 2408.9,1141.6 C2397.4,1144.3 2387.4,1147.9 2380.3,1153.0 C2373.2,1158.2 2368.0,1163.9 2366.4,1172.7 C2364.7,1181.4 2368.0,1194.6 2370.5,1205.4 C2372.9,1216.1 2377.3,1226.4 2381.1,1237.3 C2384.9,1248.2 2386.0,1261.9 2393.4,1270.8 C2400.7,1279.7 2418.4,1286.3 2425.3,1290.4 C2432.1,1294.5 2432.7,1294.5 2434.2,1295.3" fill="none" stroke="#1c1c1c" stroke-width="3.0" stroke-linecap="round" stroke-linejoin="round"/>
<polyline points="2327.1,1233.2 2433.4,1295.3 2425.3,1305.6 2340.2,1263.4" fill="none" stroke="#1c1c1c" stroke-width="3.0" stroke-linejoin="round" stroke-linecap="round" />
<polyline points="2312.8,1251.6 2327.1,1259.4 2423.2,1304.3" fill="none" stroke="#1c1c1c" stroke-width="3.0" stroke-linejoin="round" stroke-linecap="round" />
<polyline points="2312.8,1252.4 2323.0,1260.6 2308.7,1270.8 2278.1,1259.4 2274.0,1273.7 2296.5,1301.9 2319.8,1316.6" fill="none" stroke="#1c1c1c" stroke-width="3.0" stroke-linejoin="round" stroke-linecap="round" />
<path d="M2330.4,1268.8 C2329.3,1273.9 2324.4,1290.4 2323.8,1299.4 C2323.3,1308.5 2323.5,1315.6 2327.1,1323.1 C2330.7,1330.6 2338.7,1339.1 2345.5,1344.4 C2352.3,1349.7 2360.5,1353.9 2368.0,1355.0 C2375.5,1356.1 2383.1,1353.9 2390.5,1350.9 C2397.9,1348.0 2406.2,1343.2 2412.2,1337.0 C2418.1,1330.8 2422.7,1320.3 2426.1,1313.7 C2429.5,1307.1 2431.5,1300.1 2432.6,1297.4" fill="none" stroke="#1c1c1c" stroke-width="3.0" stroke-linecap="round" stroke-linejoin="round"/>
<polygon points="2449.8,1137.1 2485.8,1145.3 2554.1,1208.7 2550.4,1226.6 2534.0,1240.5 2532.4,1257.7 2506.2,1283.1 2490.7,1287.2 2464.1,1308.4 2426.1,1291.2 2382.3,1236.0 2422.0,1189.0 2411.4,1180.8 2419.5,1171.0" fill="#fff" stroke="#1c1c1c" stroke-width="3.0" stroke-linejoin="round" stroke-linecap="round" />
<path d="M2419.5,1171.0 C2423.9,1169.0 2436.0,1160.9 2445.7,1158.8 C2455.4,1156.7 2466.3,1154.5 2477.6,1158.4 C2488.9,1162.2 2504.6,1171.8 2513.6,1181.7 C2522.6,1191.5 2528.2,1205.9 2531.6,1217.6 C2535.0,1229.4 2533.6,1246.6 2534.0,1252.4" fill="none" stroke="#1c1c1c" stroke-width="3.0" stroke-linecap="round" stroke-linejoin="round"/>
<path d="M2412.2,1189.8 C2412.6,1196.5 2412.4,1217.8 2414.6,1229.9 C2416.8,1242.0 2417.5,1250.8 2425.3,1262.6 C2433.0,1274.5 2455.2,1294.7 2461.2,1301.1" fill="none" stroke="#1c1c1c" stroke-width="3.0" stroke-linecap="round" stroke-linejoin="round"/>
<path d="M2422.8,1191.5 C2424.7,1195.3 2429.6,1205.9 2434.2,1214.4 C2438.9,1222.8 2442.0,1231.7 2450.6,1242.2 C2459.2,1252.7 2479.9,1271.5 2485.8,1277.3" fill="none" stroke="#1c1c1c" stroke-width="3.0" stroke-linecap="round" stroke-linejoin="round"/>
<path d="M2435.9,1189.8 C2439.0,1192.6 2446.9,1202.1 2454.7,1206.2 C2462.5,1210.3 2474.0,1213.5 2482.5,1214.4 C2490.9,1215.3 2501.6,1212.0 2505.4,1211.5" fill="none" stroke="#1c1c1c" stroke-width="3.0" stroke-linecap="round" stroke-linejoin="round"/>
<path d="M2433.4,1210.3 C2436.3,1213.6 2443.7,1224.9 2450.6,1229.9 C2457.6,1235.0 2466.6,1237.7 2475.1,1240.5 C2483.7,1243.4 2497.6,1246.0 2502.1,1247.1" fill="none" stroke="#1c1c1c" stroke-width="3.0" stroke-linecap="round" stroke-linejoin="round"/>
<polyline points="2382.3,1236.0 2422.0,1189.0" fill="none" stroke="#1c1c1c" stroke-width="3.0" stroke-linejoin="round" stroke-linecap="round" />
<polyline points="2531.6,1131.0 2543.8,1146.1 2575.7,1131.0" fill="none" stroke="#1c1c1c" stroke-width="3.0" stroke-linejoin="round" stroke-linecap="round" />
<polyline points="2536.5,1131.8 2548.7,1143.2" fill="none" stroke="#1c1c1c" stroke-width="3.0" stroke-linejoin="round" stroke-linecap="round" />
<polyline points="2543.8,1146.1 2525.8,1165.3" fill="none" stroke="#1c1c1c" stroke-width="3.0" stroke-linejoin="round" stroke-linecap="round" />
</g>
<polygon points="903.1,1894.3 921.4,1890.3 1057.6,1835.3 1094.2,1843.2 1175.4,1883.8 1212.1,1957.1 1223.8,2040.9 1206.8,2133.9 1145.3,2199.3 1044.5,2201.9 979.0,2191.5 927.9,2150.9 931.9,2131.2 895.2,2137.8 855.9,2132.5 825.8,2098.5 831.1,2080.2 862.5,2089.3 871.6,2080.2 855.9,2074.9 857.2,2068.4 904.4,2077.6 939.7,2103.7 947.6,2089.3 1018.3,2127.3 1065.4,2106.4 1049.7,2082.8 1023.5,2012.1 1018.3,1928.3 938.4,1938.8 921.4,1946.6 896.5,1944.0 895.2,1951.9 887.4,1971.5 863.8,1991.1 855.9,1970.2 842.8,1989.8 832.4,1987.2 821.9,1951.9 849.4,1925.7 874.3,1928.3" fill="#fff" stroke="#fff" stroke-width="14.0" stroke-linejoin="round" stroke-linecap="round" />
<rect x="832.0" y="1885.0" width="76.0" height="12.0" fill="#fff" stroke="#fff" stroke-width="1.0" />
<line x1="858.6" y1="1891.3" x2="871.6" y2="1891.3" stroke="#000" stroke-width="3.5" stroke-linecap="butt"/>
<rect x="945.0" y="1842.0" width="12.0" height="11.5" fill="#fff" stroke="#fff" stroke-width="1.0" />
<rect x="818.0" y="2060.0" width="87.0" height="52.0" fill="#fff" stroke="#fff" stroke-width="1.0" />
<polygon points="903.1,1894.3 921.4,1890.3 1057.6,1835.3 1094.2,1843.2 1175.4,1883.8 1212.1,1957.1 1223.8,2040.9 1206.8,2133.9 1145.3,2199.3 1044.5,2201.9 979.0,2191.5 927.9,2150.9 931.9,2131.2 895.2,2137.8 855.9,2132.5 825.8,2098.5 831.1,2080.2 862.5,2089.3 871.6,2080.2 855.9,2074.9 857.2,2068.4 904.4,2077.6 939.7,2103.7 947.6,2089.3 1018.3,2127.3 1065.4,2106.4 1049.7,2082.8 1023.5,2012.1 1018.3,1928.3 938.4,1938.8 921.4,1946.6 896.5,1944.0 895.2,1951.9 887.4,1971.5 863.8,1991.1 855.9,1970.2 842.8,1989.8 832.4,1987.2 821.9,1951.9 849.4,1925.7 874.3,1928.3" fill="#fff" stroke="#333" stroke-width="2.7" stroke-linejoin="round" stroke-linecap="round" />
<polyline points="903.1,1894.3 921.4,1946.6" fill="none" stroke="#333" stroke-width="2.7" stroke-linejoin="round" stroke-linecap="round" />
<polyline points="921.4,1890.3 938.4,1938.8" fill="none" stroke="#333" stroke-width="2.7" stroke-linejoin="round" stroke-linecap="round" />
<polyline points="1018.3,1928.3 1041.8,1921.8" fill="none" stroke="#333" stroke-width="2.7" stroke-linejoin="round" stroke-linecap="round" />
<polyline points="1065.4,2106.4 1124.3,2091.2" fill="none" stroke="#333" stroke-width="2.7" stroke-linejoin="round" stroke-linecap="round" />
<polyline points="1064.1,1898.2 1128.3,1886.4 1167.5,1907.4 1181.9,1936.2 1181.9,1971.5 1164.9,2000.3 1117.8,2017.3 1089.0,2021.3 1054.9,1996.4 1068.0,1978.1 1069.3,1946.6 1072.0,1904.7" fill="none" stroke="#333" stroke-width="2.7" stroke-linejoin="round" stroke-linecap="round" />
<polyline points="1064.1,1898.2 1041.8,1936.2 1041.8,1953.2 1049.7,1959.7 1054.9,1983.3" fill="none" stroke="#333" stroke-width="2.7" stroke-linejoin="round" stroke-linecap="round" />
<polygon points="2252.1,2075.2 2252.1,2017.6 2298.7,1988.8 2309.2,1986.2 2313.1,1990.1 2317.0,2025.5 2327.5,1994.0 2335.4,2005.8 2323.6,2038.6 2315.7,2051.7 2293.5,2077.9 2292.1,2110.6 2317.0,2161.7 2462.4,2154.3 2541.0,2187.9 2551.4,2190.5 2527.9,2125.0 2499.1,2117.2 2475.5,2106.7 2462.4,2087.0 2466.3,2083.1 2497.8,2104.1 2496.4,2079.2 2468.9,2067.9 2521.3,2064.8 2551.4,2106.7 2569.8,2117.2 2588.1,2118.5 2619.5,2161.7 2635.3,2190.5 2645.7,2232.4 2641.8,2271.7 2598.6,2313.6 2504.3,2350.3 2425.7,2372.5 2378.6,2359.4 2302.6,2297.9 2245.0,2242.9 2231.9,2177.4 2220.1,2111.9 2238.5,2111.4 2241.1,2080.5 2243.7,2075.2" fill="#fff" stroke="#fff" stroke-width="14.0" stroke-linejoin="round" stroke-linecap="round" />
<rect x="2200.0" y="2075.0" width="100.0" height="37.0" fill="#fff" stroke="#fff" stroke-width="1.0" />
<rect x="2506.0" y="2031.0" width="12.0" height="33.0" fill="#fff" stroke="#fff" stroke-width="1.0" />
<polygon points="2252.1,2075.2 2252.1,2017.6 2298.7,1988.8 2309.2,1986.2 2313.1,1990.1 2317.0,2025.5 2327.5,1994.0 2335.4,2005.8 2323.6,2038.6 2315.7,2051.7 2293.5,2077.9 2292.1,2110.6 2317.0,2161.7 2462.4,2154.3 2541.0,2187.9 2551.4,2190.5 2527.9,2125.0 2499.1,2117.2 2475.5,2106.7 2462.4,2087.0 2466.3,2083.1 2497.8,2104.1 2496.4,2079.2 2468.9,2067.9 2521.3,2064.8 2551.4,2106.7 2569.8,2117.2 2588.1,2118.5 2619.5,2161.7 2635.3,2190.5 2645.7,2232.4 2641.8,2271.7 2598.6,2313.6 2504.3,2350.3 2425.7,2372.5 2378.6,2359.4 2302.6,2297.9 2245.0,2242.9 2231.9,2177.4 2220.1,2111.9 2238.5,2111.4 2241.1,2080.5 2243.7,2075.2" fill="#fff" stroke="#333" stroke-width="2.7" stroke-linejoin="round" stroke-linecap="round" />
<polyline points="2243.7,2075.2 2290.8,2077.9" fill="none" stroke="#333" stroke-width="2.7" stroke-linejoin="round" stroke-linecap="round" />
<polyline points="2238.5,2111.4 2292.1,2110.6" fill="none" stroke="#333" stroke-width="2.7" stroke-linejoin="round" stroke-linecap="round" />
<polyline points="2317.0,2161.7 2343.2,2223.2" fill="none" stroke="#333" stroke-width="2.7" stroke-linejoin="round" stroke-linecap="round" />
<polyline points="2541.0,2187.9 2609.1,2232.4 2619.5,2262.5" fill="none" stroke="#333" stroke-width="2.7" stroke-linejoin="round" stroke-linecap="round" />
<polyline points="2580.3,2194.4 2601.2,2182.6 2620.9,2197.0" fill="none" stroke="#333" stroke-width="2.7" stroke-linejoin="round" stroke-linecap="round" />
<polyline points="2408.7,2290.0 2417.9,2245.5 2451.9,2215.4 2458.5,2248.1 2486.0,2240.3 2514.8,2250.7 2526.6,2269.1 2544.9,2273.0 2555.4,2258.6" fill="none" stroke="#333" stroke-width="2.7" stroke-linejoin="round" stroke-linecap="round" />
<polyline points="2462.4,2219.3 2496.4,2203.6 2512.2,2193.1 2527.9,2221.9 2559.3,2261.2 2559.3,2300.5 2504.3,2345.0 2454.5,2338.5 2408.7,2290.0" fill="none" stroke="#333" stroke-width="2.7" stroke-linejoin="round" stroke-linecap="round" />
<line x1="2190.0" y1="2094.5" x2="2200.0" y2="2094.5" stroke="#000" stroke-width="4.0" stroke-linecap="butt"/>
<line x1="2211.0" y1="2094.5" x2="2237.0" y2="2094.5" stroke="#000" stroke-width="4.0" stroke-linecap="butt"/>
<line x1="1476.5" y1="1048.5" x2="1566.5" y2="1142.5" stroke="#000" stroke-width="10.0" stroke-linecap="butt"/>
<line x1="530.0" y1="1066.0" x2="619.0" y2="1155.0" stroke="#000" stroke-width="11.0" stroke-linecap="butt"/>
<line x1="912.4" y1="1915.8" x2="830.4" y2="2015.2" stroke="#000" stroke-width="9.5" stroke-linecap="butt"/>
<line x1="2087.5" y1="370.0" x2="2082.5" y2="427.5" stroke="#dc0606" stroke-width="7.0" stroke-linecap="round"/>
<line x1="1900.5" y1="238.8" x2="564.7" y2="298.8" stroke="#dc0606" stroke-width="7.0" stroke-dasharray="101 25" stroke-dashoffset="11.9" stroke-linecap="round"/>
<line x1="238.6" y1="334.0" x2="80.7" y2="361.4" stroke="#dc0606" stroke-width="7.0" stroke-dasharray="101 25" stroke-dashoffset="33.4" stroke-linecap="round"/><line x1="80.7" y1="361.4" x2="112.6" y2="1654.9" stroke="#dc0606" stroke-width="7.0" stroke-dasharray="101 25" stroke-dashoffset="33.6" stroke-linecap="round"/><line x1="112.6" y1="1654.9" x2="312.2" y2="1844.9" stroke="#dc0606" stroke-width="7.0" stroke-dasharray="101 25" stroke-dashoffset="38.7" stroke-linecap="round"/>
<line x1="381.7" y1="1868.0" x2="488.0" y2="1681.5" stroke="#dc0606" stroke-width="7.0" stroke-dasharray="101 25" stroke-dashoffset="69.2" stroke-linecap="round"/><line x1="488.0" y1="1681.5" x2="1549.0" y2="1681.5" stroke="#dc0606" stroke-width="7.0" stroke-dasharray="101 25" stroke-dashoffset="24.0" stroke-linecap="round"/><line x1="1549.0" y1="1681.5" x2="1961.5" y2="1563.0" stroke="#dc0606" stroke-width="7.0" stroke-dasharray="101 25" stroke-dashoffset="24.9" stroke-linecap="round"/>
<line x1="2309.0" y1="1623.0" x2="2419.5" y2="1828.0" stroke="#dc0606" stroke-width="7.0" stroke-dasharray="101 25" stroke-dashoffset="60.1" stroke-linecap="round"/>
<line x1="2517.5" y1="1907.0" x2="2562.0" y2="1907.0" stroke="#dc0606" stroke-width="7.0" stroke-linecap="round"/>
<line x1="2588.5" y1="1907.0" x2="2633.0" y2="1907.0" stroke="#dc0606" stroke-width="7.0" stroke-linecap="round"/>
<line x1="2825.7" y1="1809.0" x2="3131.6" y2="991.5" stroke="#dc0606" stroke-width="7.0" stroke-dasharray="101 25" stroke-dashoffset="55.1" stroke-linecap="round"/><line x1="3131.6" y1="991.5" x2="3127.6" y2="905.7" stroke="#dc0606" stroke-width="7.0" stroke-linecap="round"/>
<line x1="2920.0" y1="413.0" x2="3050.0" y2="180.0" stroke="#dc0606" stroke-width="7.0" stroke-dasharray="101 25" stroke-dashoffset="43.1" stroke-linecap="round"/>
<polygon points="3068.0,151.0 3040.0,181.0 3058.7,189.0" fill="#dc0606" stroke="#dc0606" stroke-width="2.0" stroke-linejoin="round" stroke-linecap="round" />
<line x1="1997.0" y1="988.8" x2="1955.0" y2="1307.5" stroke="#0000ff" stroke-width="7.0" stroke-dasharray="101 25" stroke-dashoffset="15.7" stroke-linecap="round"/><line x1="1955.0" y1="1307.5" x2="1617.5" y2="1346.2" stroke="#0000ff" stroke-width="7.0" stroke-dasharray="101 25" stroke-dashoffset="6.6" stroke-linecap="round"/>
<line x1="2671.0" y1="1108.9" x2="2567.8" y2="1428.7" stroke="#008000" stroke-width="7.0" stroke-dasharray="101 25" stroke-dashoffset="8.5" stroke-linecap="round"/><line x1="2567.8" y1="1428.7" x2="2009.0" y2="1426.7" stroke="#008000" stroke-width="7.0" stroke-dasharray="101 25" stroke-dashoffset="23.1" stroke-linecap="round"/><line x1="2009.0" y1="1426.7" x2="1365.7" y2="1641.5" stroke="#008000" stroke-width="7.0" stroke-dasharray="101 25" stroke-dashoffset="26.4" stroke-linecap="round"/><line x1="1365.7" y1="1641.5" x2="627.0" y2="1407.5" stroke="#008000" stroke-width="7.0" stroke-dasharray="101 25" stroke-dashoffset="41.1" stroke-linecap="round"/>
</svg>
</body></html>
